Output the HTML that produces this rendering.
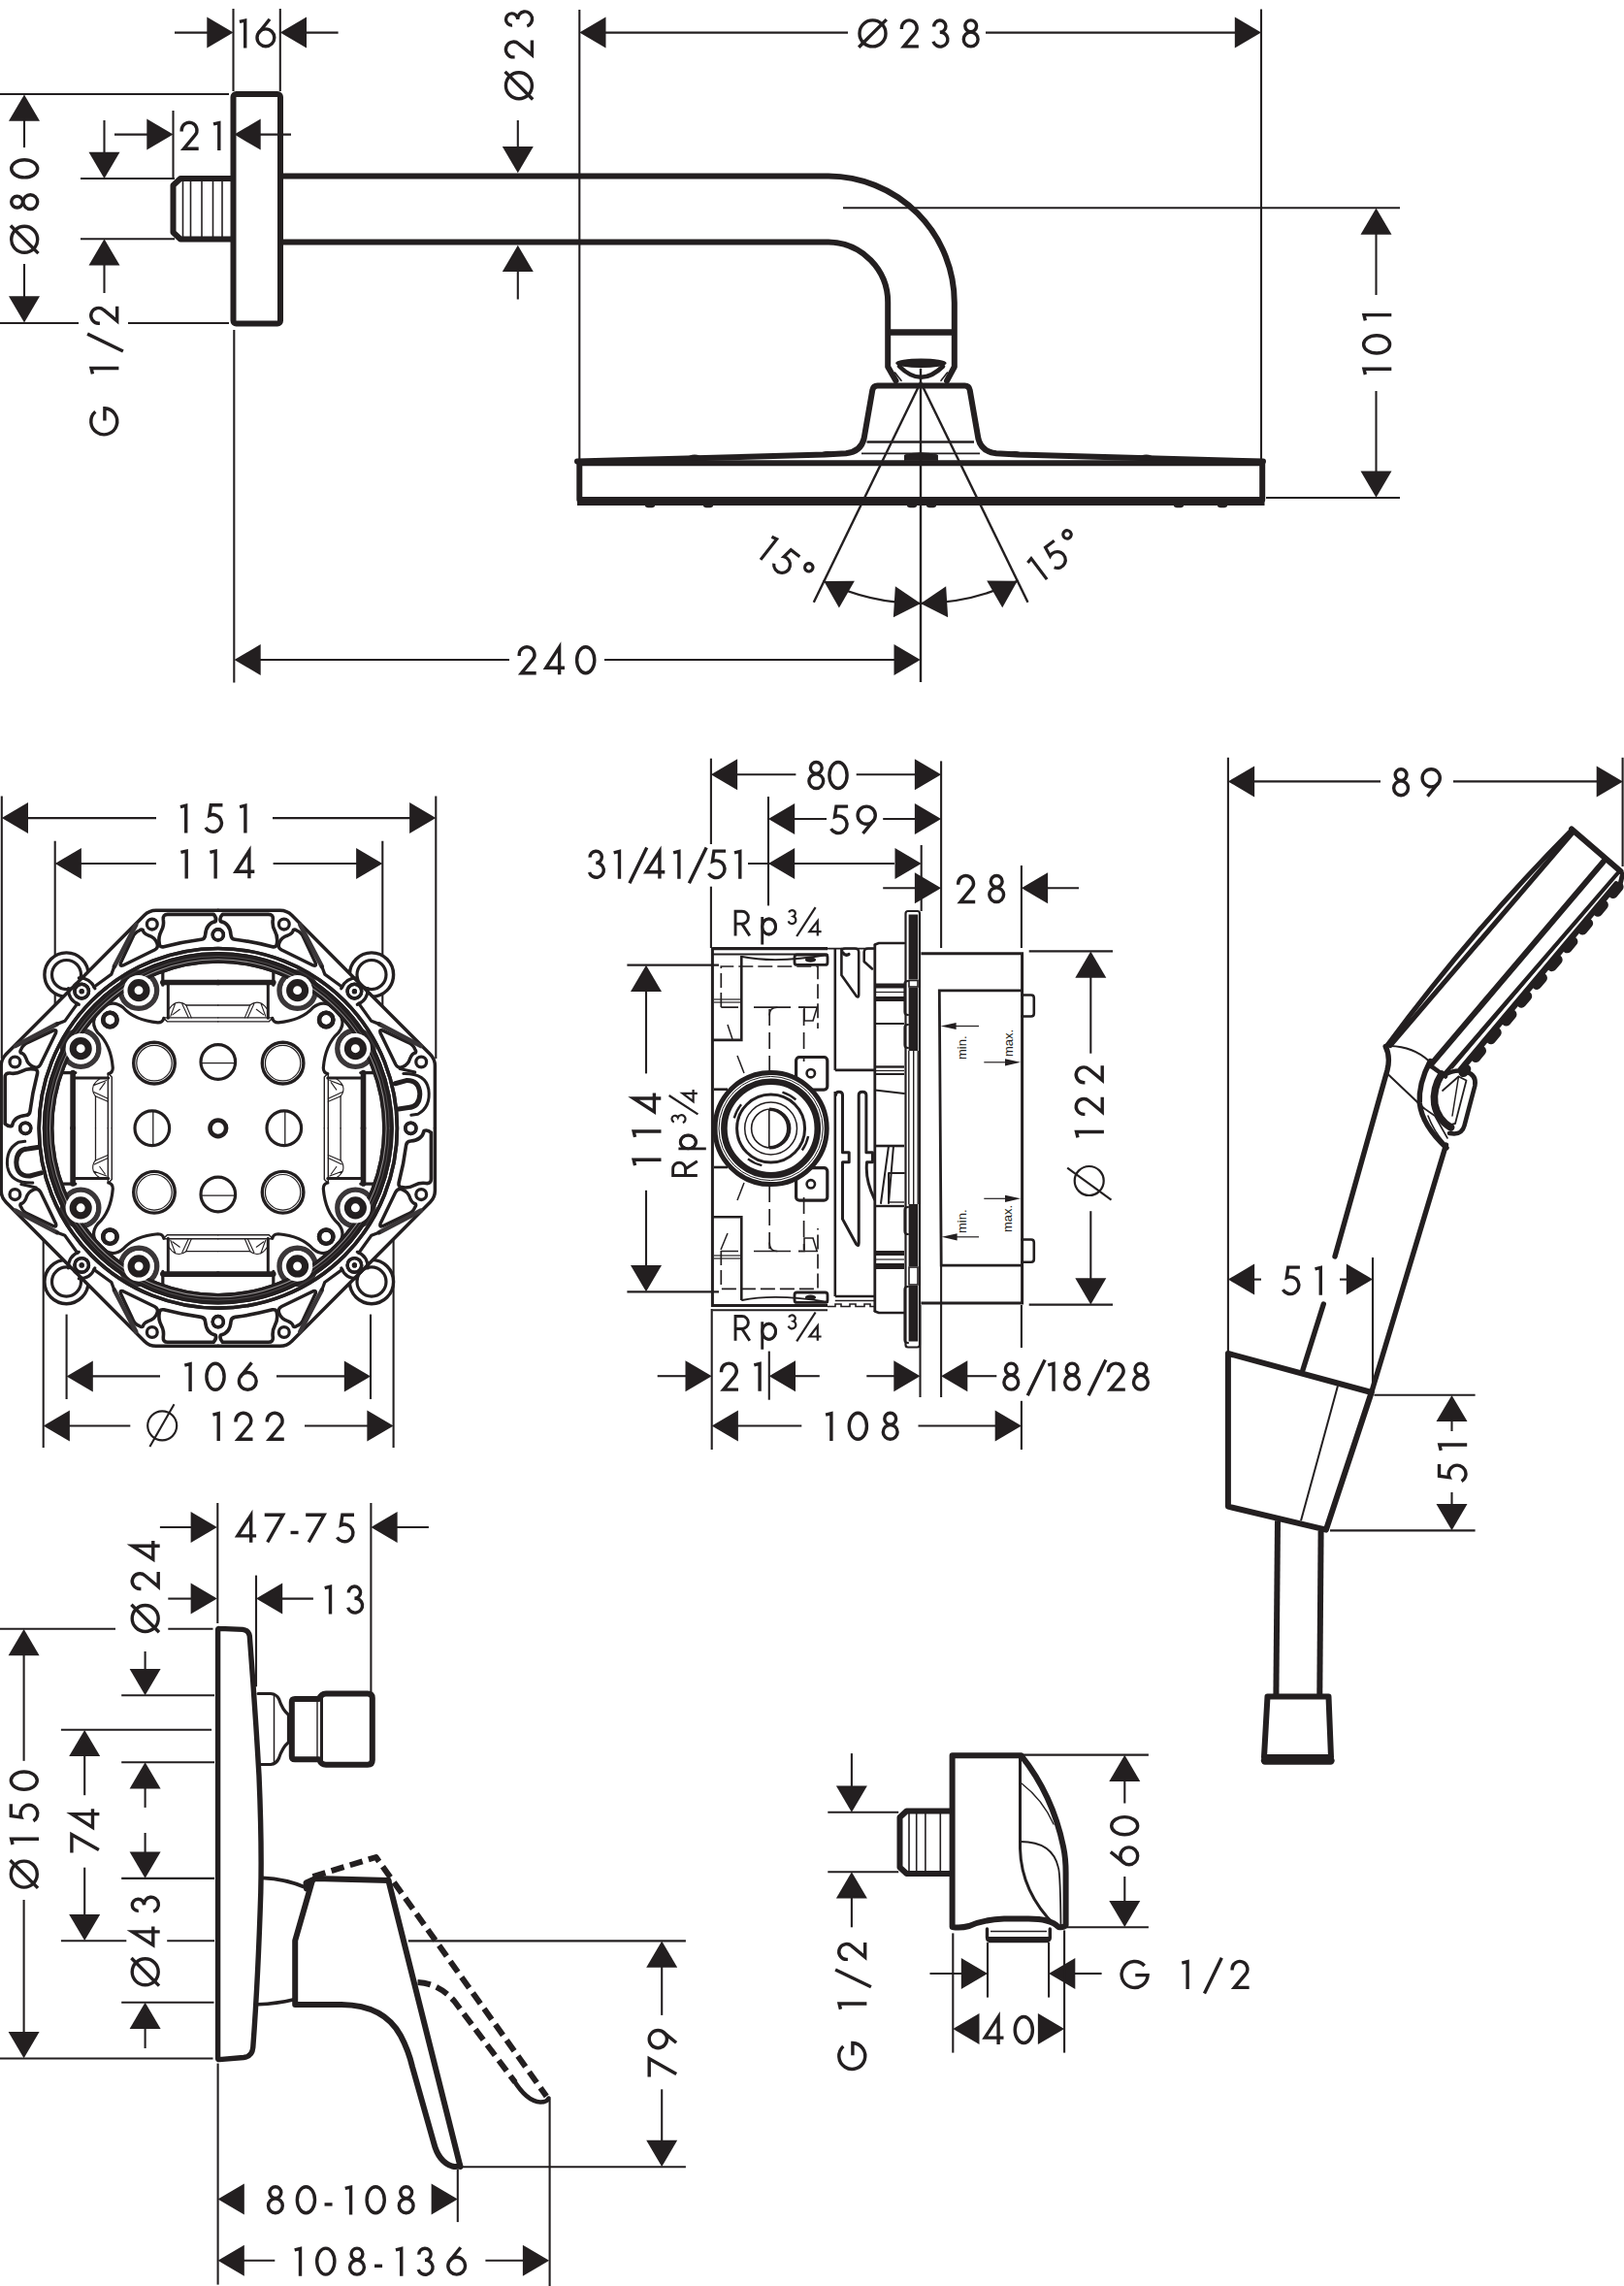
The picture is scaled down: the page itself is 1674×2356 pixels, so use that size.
<!DOCTYPE html>
<html><head><meta charset="utf-8"><title>Dimension drawing</title>
<style>html,body{margin:0;padding:0;background:#fff;}svg{display:block;}text{font-family:"Liberation Sans",sans-serif;}</style>
</head><body>
<svg width="1674" height="2356" viewBox="0 0 1674 2356">
<rect x="0" y="0" width="1674" height="2356" fill="#ffffff"/>
<line x1="240.50" y1="9.00" x2="240.50" y2="94.00" stroke="#231f20" stroke-width="2.1" stroke-linecap="butt"/>
<line x1="288.80" y1="9.00" x2="288.80" y2="94.00" stroke="#231f20" stroke-width="2.1" stroke-linecap="butt"/>
<line x1="180.00" y1="33.60" x2="215.00" y2="33.60" stroke="#231f20" stroke-width="2.1" stroke-linecap="butt"/>
<polygon points="240.50,33.60 213.30,17.60 213.30,49.60" fill="#231f20"/>
<polygon points="288.80,33.60 316.00,17.60 316.00,49.60" fill="#231f20"/>
<line x1="314.00" y1="33.60" x2="348.60" y2="33.60" stroke="#231f20" stroke-width="2.1" stroke-linecap="butt"/>
<g transform="translate(246.00,19.00) rotate(0) scale(1.0)" fill="none" stroke="#231f20" stroke-width="3.4" stroke-linejoin="miter" stroke-linecap="butt"><path transform="translate(1.70,1.70)" d="M-0.8,1.75 L5.0,0.35 V28.7"/><path transform="translate(19.00,1.70)" d="M8.9,9.2 A8.9,8.9 0 1 1 8.9,27 A8.9,8.9 0 1 1 8.9,9.2 Z"/><path transform="translate(19.00,1.70)" d="M13.0,-0.9 L1.4,13.6"/></g>
<line x1="0.00" y1="97.00" x2="236.00" y2="97.00" stroke="#231f20" stroke-width="2.1" stroke-linecap="butt"/>
<line x1="0.00" y1="333.00" x2="81.00" y2="333.00" stroke="#231f20" stroke-width="2.1" stroke-linecap="butt"/>
<line x1="132.00" y1="333.00" x2="236.00" y2="333.00" stroke="#231f20" stroke-width="2.1" stroke-linecap="butt"/>
<polygon points="25.00,97.50 9.00,124.70 41.00,124.70" fill="#231f20"/>
<line x1="25.00" y1="123.00" x2="25.00" y2="152.00" stroke="#231f20" stroke-width="2.1" stroke-linecap="butt"/>
<line x1="25.00" y1="272.00" x2="25.00" y2="307.00" stroke="#231f20" stroke-width="2.1" stroke-linecap="butt"/>
<polygon points="25.00,332.50 9.00,305.30 41.00,305.30" fill="#231f20"/>
<g transform="translate(10.00,262.00) rotate(-90) scale(1.0)" fill="none" stroke="#231f20" stroke-width="3.4" stroke-linejoin="miter" stroke-linecap="butt"><path transform="translate(1.70,1.70)" d="M13.5,0 A13.5,13.5 0 1 1 13.5,27 A13.5,13.5 0 1 1 13.5,0 Z"/><path transform="translate(1.70,1.70)" d="M-0.8,27.8 L27.8,-0.8"/><path transform="translate(46.50,1.70)" d="M7.4,0 A5.9,5.9 0 1 1 7.4,11.8 A5.9,5.9 0 1 1 7.4,0 Z"/><path transform="translate(46.50,1.70)" d="M7.4,12.2 A7.4,7.4 0 1 1 7.4,27 A7.4,7.4 0 1 1 7.4,12.2 Z"/><path transform="translate(79.10,1.70)" d="M9.1,0 A9.1,13.5 0 1 1 9.1,27 A9.1,13.5 0 1 1 9.1,0 Z"/></g>
<line x1="178.50" y1="114.00" x2="178.50" y2="183.00" stroke="#231f20" stroke-width="2.1" stroke-linecap="butt"/>
<line x1="118.00" y1="138.60" x2="153.00" y2="138.60" stroke="#231f20" stroke-width="2.1" stroke-linecap="butt"/>
<polygon points="178.50,138.60 151.30,122.60 151.30,154.60" fill="#231f20"/>
<g transform="translate(185.50,124.50) rotate(0) scale(1.0)" fill="none" stroke="#231f20" stroke-width="3.4" stroke-linejoin="miter" stroke-linecap="butt"><path transform="translate(1.70,1.70)" d="M0,9.2 V7.9 A7.9,7.9 0 1 1 13.8,13.2 L2.3,27 H17.5"/><path transform="translate(35.30,1.70)" d="M-0.8,1.75 L5.0,0.35 V28.7"/></g>
<polygon points="241.50,138.60 268.70,122.60 268.70,154.60" fill="#231f20"/>
<line x1="267.00" y1="138.60" x2="300.00" y2="138.60" stroke="#231f20" stroke-width="2.1" stroke-linecap="butt"/>
<line x1="83.00" y1="184.00" x2="180.00" y2="184.00" stroke="#231f20" stroke-width="2.1" stroke-linecap="butt"/>
<line x1="83.00" y1="246.30" x2="180.00" y2="246.30" stroke="#231f20" stroke-width="2.1" stroke-linecap="butt"/>
<line x1="107.50" y1="124.00" x2="107.50" y2="158.00" stroke="#231f20" stroke-width="2.1" stroke-linecap="butt"/>
<polygon points="107.50,184.00 91.50,156.80 123.50,156.80" fill="#231f20"/>
<polygon points="107.50,246.30 91.50,273.50 123.50,273.50" fill="#231f20"/>
<line x1="107.50" y1="272.00" x2="107.50" y2="302.00" stroke="#231f20" stroke-width="2.1" stroke-linecap="butt"/>
<g transform="translate(92.00,449.50) rotate(-90) scale(1.0)" fill="none" stroke="#231f20" stroke-width="3.4" stroke-linejoin="miter" stroke-linecap="butt"><path transform="translate(1.70,1.70)" d="M23.6,4.6 A13.5,13.5 0 1 0 27,14.2 H14.2"/><path transform="translate(65.00,1.70)" d="M-0.8,1.75 L5.0,0.35 V28.7"/><path transform="translate(88.15,1.70)" d="M-0.6,33.2 L17.2,-3.6"/><path transform="translate(116.30,1.70)" d="M0,9.2 V7.9 A7.9,7.9 0 1 1 13.8,13.2 L2.3,27 H17.5"/></g>
<rect x="240.50" y="97.00" width="48.50" height="236.60" rx="3" fill="none" stroke="#231f20" stroke-width="6.0"/>
<path d="M238,184 H186 L178.5,191 V239.5 L186,246.5 H238" fill="none" stroke="#231f20" stroke-width="6.0" stroke-linejoin="round" stroke-linecap="round" />
<line x1="188.50" y1="186.00" x2="188.50" y2="245.00" stroke="#231f20" stroke-width="1.6" stroke-linecap="butt"/>
<line x1="196.50" y1="186.00" x2="196.50" y2="245.00" stroke="#231f20" stroke-width="1.6" stroke-linecap="butt"/>
<line x1="208.00" y1="186.00" x2="208.00" y2="245.00" stroke="#231f20" stroke-width="1.6" stroke-linecap="butt"/>
<line x1="219.50" y1="186.00" x2="219.50" y2="245.00" stroke="#231f20" stroke-width="1.6" stroke-linecap="butt"/>
<line x1="229.00" y1="186.00" x2="229.00" y2="245.00" stroke="#231f20" stroke-width="1.6" stroke-linecap="butt"/>
<path d="M292,181.5 H854 A130.5,130.5 0 0 1 983.8,312 V378 L976,392.5" fill="none" stroke="#231f20" stroke-width="6.0" stroke-linejoin="round" stroke-linecap="round" />
<path d="M292,249.5 H854 A62,62 0 0 1 915.2,312 V378 L923.5,392.5" fill="none" stroke="#231f20" stroke-width="6.0" stroke-linejoin="round" stroke-linecap="round" />
<line x1="915.20" y1="342.50" x2="983.80" y2="342.50" stroke="#231f20" stroke-width="6.6" stroke-linecap="butt"/>
<ellipse cx="949.40" cy="374.30" rx="25.50" ry="4.00" fill="#231f20" stroke="#231f20" stroke-width="1.5"/>
<path d="M927,377.5 Q949.4,400 972,377.5" fill="none" stroke="#231f20" stroke-width="4.6" stroke-linejoin="round" stroke-linecap="round" />
<path d="M922.5,384 L929,392.3 M976.5,384 L970,392.3" fill="none" stroke="#231f20" stroke-width="1.6" stroke-linejoin="round" stroke-linecap="round" />
<line x1="533.80" y1="124.00" x2="533.80" y2="156.00" stroke="#231f20" stroke-width="2.1" stroke-linecap="butt"/>
<polygon points="533.80,178.30 517.80,151.10 549.80,151.10" fill="#231f20"/>
<polygon points="533.80,252.80 517.80,280.00 549.80,280.00" fill="#231f20"/>
<line x1="533.80" y1="278.00" x2="533.80" y2="308.50" stroke="#231f20" stroke-width="2.1" stroke-linecap="butt"/>
<g transform="translate(519.70,103.40) rotate(-90) scale(1.0)" fill="none" stroke="#231f20" stroke-width="3.4" stroke-linejoin="miter" stroke-linecap="butt"><path transform="translate(1.70,1.70)" d="M13.5,0 A13.5,13.5 0 1 1 13.5,27 A13.5,13.5 0 1 1 13.5,0 Z"/><path transform="translate(1.70,1.70)" d="M-0.8,27.8 L27.8,-0.8"/><path transform="translate(44.50,1.70)" d="M0,9.2 V7.9 A7.9,7.9 0 1 1 13.8,13.2 L2.3,27 H17.5"/><path transform="translate(76.30,1.70)" d="M1.0,6.6 A6.1,6.1 0 1 1 7.1,12.3 A7.6,7.45 0 1 1 0.3,21.9"/></g>
<line x1="597.30" y1="10.00" x2="597.30" y2="476.00" stroke="#231f20" stroke-width="2.1" stroke-linecap="butt"/>
<line x1="1300.00" y1="9.50" x2="1300.00" y2="476.00" stroke="#231f20" stroke-width="2.1" stroke-linecap="butt"/>
<polygon points="597.30,33.60 624.50,17.60 624.50,49.60" fill="#231f20"/>
<line x1="623.00" y1="33.60" x2="874.00" y2="33.60" stroke="#231f20" stroke-width="2.1" stroke-linecap="butt"/>
<g transform="translate(884.30,19.20) rotate(0) scale(1.0)" fill="none" stroke="#231f20" stroke-width="3.4" stroke-linejoin="miter" stroke-linecap="butt"><path transform="translate(1.70,1.70)" d="M13.5,0 A13.5,13.5 0 1 1 13.5,27 A13.5,13.5 0 1 1 13.5,0 Z"/><path transform="translate(1.70,1.70)" d="M-0.8,27.8 L27.8,-0.8"/><path transform="translate(45.07,1.70)" d="M0,9.2 V7.9 A7.9,7.9 0 1 1 13.8,13.2 L2.3,27 H17.5"/><path transform="translate(77.43,1.70)" d="M1.0,6.6 A6.1,6.1 0 1 1 7.1,12.3 A7.6,7.45 0 1 1 0.3,21.9"/><path transform="translate(109.00,1.70)" d="M7.4,0 A5.9,5.9 0 1 1 7.4,11.8 A5.9,5.9 0 1 1 7.4,0 Z"/><path transform="translate(109.00,1.70)" d="M7.4,12.2 A7.4,7.4 0 1 1 7.4,27 A7.4,7.4 0 1 1 7.4,12.2 Z"/></g>
<line x1="1016.00" y1="33.60" x2="1274.00" y2="33.60" stroke="#231f20" stroke-width="2.1" stroke-linecap="butt"/>
<polygon points="1300.00,33.60 1272.80,17.60 1272.80,49.60" fill="#231f20"/>
<path d="M595,475.5 L850,468.6 L872,467.2 Q887.5,465.5 890.6,452 L899.3,402 Q900.2,397.6 904.5,397.6 H994.5 Q998.8,397.6 999.7,402 L1008.4,452 Q1011.5,465.5 1027,467.2 L1049,468.6 L1302,475.5" fill="none" stroke="#231f20" stroke-width="6.0" stroke-linejoin="round" stroke-linecap="round" />
<line x1="893.50" y1="455.50" x2="1004.00" y2="455.50" stroke="#231f20" stroke-width="2.4" stroke-linecap="butt"/>
<line x1="888.00" y1="467.30" x2="1010.00" y2="467.30" stroke="#231f20" stroke-width="1.8" stroke-linecap="butt"/>
<path d="M597.3,477.3 H1301.2 V515 H597.3 Z" fill="none" stroke="#231f20" stroke-width="6.0" stroke-linejoin="round" stroke-linecap="round" />
<line x1="595.00" y1="516.70" x2="1303.50" y2="516.70" stroke="#231f20" stroke-width="8.6" stroke-linecap="butt"/>
<ellipse cx="716.00" cy="471.40" rx="7.00" ry="2.80" fill="#231f20" stroke="#231f20" stroke-width="0"/>
<ellipse cx="853.00" cy="467.70" rx="7.00" ry="2.80" fill="#231f20" stroke="#231f20" stroke-width="0"/>
<ellipse cx="1046.00" cy="467.70" rx="7.00" ry="2.80" fill="#231f20" stroke="#231f20" stroke-width="0"/>
<ellipse cx="1181.50" cy="471.40" rx="7.00" ry="2.80" fill="#231f20" stroke="#231f20" stroke-width="0"/>
<path d="M932.5,474.5 V469 Q949,464.5 966.4,469 V474.5 Z" fill="#231f20" stroke="#231f20" stroke-width="1" stroke-linejoin="round" stroke-linecap="round" />
<ellipse cx="670.00" cy="521.30" rx="5.00" ry="2.00" fill="#231f20" stroke="#231f20" stroke-width="0"/>
<ellipse cx="730.00" cy="521.30" rx="5.00" ry="2.00" fill="#231f20" stroke="#231f20" stroke-width="0"/>
<ellipse cx="940.00" cy="521.30" rx="5.00" ry="2.00" fill="#231f20" stroke="#231f20" stroke-width="0"/>
<ellipse cx="960.00" cy="521.30" rx="5.00" ry="2.00" fill="#231f20" stroke="#231f20" stroke-width="0"/>
<ellipse cx="1215.00" cy="521.30" rx="5.00" ry="2.00" fill="#231f20" stroke="#231f20" stroke-width="0"/>
<ellipse cx="1260.00" cy="521.30" rx="5.00" ry="2.00" fill="#231f20" stroke="#231f20" stroke-width="0"/>
<line x1="949.00" y1="379.70" x2="949.00" y2="703.00" stroke="#231f20" stroke-width="2.4" stroke-linecap="butt"/>
<line x1="949.00" y1="394.00" x2="838.80" y2="620.70" stroke="#231f20" stroke-width="2.4" stroke-linecap="butt"/>
<line x1="949.00" y1="394.00" x2="1059.50" y2="620.70" stroke="#231f20" stroke-width="2.4" stroke-linecap="butt"/>
<path d="M849.3,599.0 A227.5,227.5 0 0 0 1048.7,598.7" fill="none" stroke="#231f20" stroke-width="2.2" stroke-linejoin="round" stroke-linecap="round" />
<polygon points="849.32,599.04 880.87,598.73 864.92,626.47" fill="#231f20"/>
<polygon points="1048.74,598.72 1033.23,626.20 1017.18,598.52" fill="#231f20"/>
<polygon points="949.00,621.90 975.17,604.27 977.13,636.21" fill="#231f20"/>
<polygon points="949.00,621.90 920.87,636.21 922.83,604.27" fill="#231f20"/>
<g transform="translate(796.80,550.20) rotate(38) scale(0.95)" fill="none" stroke="#231f20" stroke-width="3.4" stroke-linejoin="miter" stroke-linecap="butt"><path transform="translate(1.70,1.70)" d="M-0.8,1.75 L5.0,0.35 V28.7"/><path transform="translate(20.10,1.70)" d="M18.0,0 H5.9 L4.4,10.6 A8.85,8.85 0 1 1 0.5,23.1"/><path transform="translate(48.70,1.70)" d="M4.4,-1.4 A4.4,4.4 0 1 1 4.4,7.4 A4.4,4.4 0 1 1 4.4,-1.4 Z"/></g>
<g transform="translate(1056.70,577.90) rotate(-37) scale(0.95)" fill="none" stroke="#231f20" stroke-width="3.4" stroke-linejoin="miter" stroke-linecap="butt"><path transform="translate(1.70,1.70)" d="M-0.8,1.75 L5.0,0.35 V28.7"/><path transform="translate(20.30,1.70)" d="M18.0,0 H5.9 L4.4,10.6 A8.85,8.85 0 1 1 0.5,23.1"/><path transform="translate(49.10,1.70)" d="M4.4,-1.4 A4.4,4.4 0 1 1 4.4,7.4 A4.4,4.4 0 1 1 4.4,-1.4 Z"/></g>
<line x1="869.00" y1="214.20" x2="1443.00" y2="214.20" stroke="#231f20" stroke-width="2.1" stroke-linecap="butt"/>
<line x1="1305.00" y1="513.00" x2="1443.00" y2="513.00" stroke="#231f20" stroke-width="2.1" stroke-linecap="butt"/>
<polygon points="1418.50,214.50 1402.50,241.70 1434.50,241.70" fill="#231f20"/>
<line x1="1418.50" y1="240.00" x2="1418.50" y2="304.00" stroke="#231f20" stroke-width="2.1" stroke-linecap="butt"/>
<line x1="1418.50" y1="403.00" x2="1418.50" y2="488.00" stroke="#231f20" stroke-width="2.1" stroke-linecap="butt"/>
<polygon points="1418.50,512.70 1402.50,485.50 1434.50,485.50" fill="#231f20"/>
<g transform="translate(1403.90,386.90) rotate(-90) scale(1.0)" fill="none" stroke="#231f20" stroke-width="3.4" stroke-linejoin="miter" stroke-linecap="butt"><path transform="translate(1.70,1.70)" d="M-0.8,1.75 L5.0,0.35 V28.7"/><path transform="translate(22.90,1.70)" d="M9.1,0 A9.1,13.5 0 1 1 9.1,27 A9.1,13.5 0 1 1 9.1,0 Z"/><path transform="translate(57.30,1.70)" d="M-0.8,1.75 L5.0,0.35 V28.7"/></g>
<line x1="241.30" y1="340.00" x2="241.30" y2="703.50" stroke="#231f20" stroke-width="2.1" stroke-linecap="butt"/>
<polygon points="241.50,680.00 268.70,664.00 268.70,696.00" fill="#231f20"/>
<line x1="267.00" y1="680.00" x2="525.00" y2="680.00" stroke="#231f20" stroke-width="2.1" stroke-linecap="butt"/>
<g transform="translate(533.50,665.00) rotate(0) scale(1.0)" fill="none" stroke="#231f20" stroke-width="3.4" stroke-linejoin="miter" stroke-linecap="butt"><path transform="translate(1.70,1.70)" d="M0,9.2 V7.9 A7.9,7.9 0 1 1 13.8,13.2 L2.3,27 H17.5"/><path transform="translate(28.30,1.70)" d="M14.8,28.5 V0.2 L1.0,21.6 H20.2"/><path transform="translate(61.10,1.70)" d="M9.1,0 A9.1,13.5 0 1 1 9.1,27 A9.1,13.5 0 1 1 9.1,0 Z"/></g>
<line x1="623.00" y1="680.00" x2="923.00" y2="680.00" stroke="#231f20" stroke-width="2.1" stroke-linecap="butt"/>
<polygon points="948.70,680.00 921.50,664.00 921.50,696.00" fill="#231f20"/>
<line x1="1.80" y1="820.50" x2="1.80" y2="1091.00" stroke="#231f20" stroke-width="2.1" stroke-linecap="butt"/>
<line x1="449.30" y1="820.50" x2="449.30" y2="1091.00" stroke="#231f20" stroke-width="2.1" stroke-linecap="butt"/>
<polygon points="1.80,843.10 29.00,827.10 29.00,859.10" fill="#231f20"/>
<line x1="28.00" y1="843.10" x2="161.00" y2="843.10" stroke="#231f20" stroke-width="2.1" stroke-linecap="butt"/>
<g transform="translate(185.00,828.10) rotate(0) scale(1.0)" fill="none" stroke="#231f20" stroke-width="3.4" stroke-linejoin="miter" stroke-linecap="butt"><path transform="translate(1.70,1.70)" d="M-0.8,1.75 L5.0,0.35 V28.7"/><path transform="translate(26.45,1.70)" d="M18.0,0 H5.9 L4.4,10.6 A8.85,8.85 0 1 1 0.5,23.1"/><path transform="translate(62.90,1.70)" d="M-0.8,1.75 L5.0,0.35 V28.7"/></g>
<line x1="281.00" y1="843.10" x2="423.00" y2="843.10" stroke="#231f20" stroke-width="2.1" stroke-linecap="butt"/>
<polygon points="449.30,843.10 422.10,827.10 422.10,859.10" fill="#231f20"/>
<line x1="56.70" y1="866.80" x2="56.70" y2="1204.00" stroke="#231f20" stroke-width="2.1" stroke-linecap="butt"/>
<line x1="394.30" y1="866.80" x2="394.30" y2="1204.00" stroke="#231f20" stroke-width="2.1" stroke-linecap="butt"/>
<polygon points="56.70,890.00 83.90,874.00 83.90,906.00" fill="#231f20"/>
<line x1="83.00" y1="890.00" x2="161.00" y2="890.00" stroke="#231f20" stroke-width="2.1" stroke-linecap="butt"/>
<g transform="translate(185.50,875.00) rotate(0) scale(1.0)" fill="none" stroke="#231f20" stroke-width="3.4" stroke-linejoin="miter" stroke-linecap="butt"><path transform="translate(1.70,1.70)" d="M-0.8,1.75 L5.0,0.35 V28.7"/><path transform="translate(31.65,1.70)" d="M-0.8,1.75 L5.0,0.35 V28.7"/><path transform="translate(56.60,1.70)" d="M14.8,28.5 V0.2 L1.0,21.6 H20.2"/></g>
<line x1="281.60" y1="890.00" x2="368.00" y2="890.00" stroke="#231f20" stroke-width="2.1" stroke-linecap="butt"/>
<polygon points="394.30,890.00 367.10,874.00 367.10,906.00" fill="#231f20"/>
<line x1="68.60" y1="1354.60" x2="68.60" y2="1442.00" stroke="#231f20" stroke-width="2.1" stroke-linecap="butt"/>
<line x1="382.00" y1="1354.60" x2="382.00" y2="1442.00" stroke="#231f20" stroke-width="2.1" stroke-linecap="butt"/>
<polygon points="68.60,1418.40 95.80,1402.40 95.80,1434.40" fill="#231f20"/>
<line x1="95.00" y1="1418.40" x2="165.00" y2="1418.40" stroke="#231f20" stroke-width="2.1" stroke-linecap="butt"/>
<g transform="translate(189.40,1403.60) rotate(0) scale(1.0)" fill="none" stroke="#231f20" stroke-width="3.4" stroke-linejoin="miter" stroke-linecap="butt"><path transform="translate(1.70,1.70)" d="M-0.8,1.75 L5.0,0.35 V28.7"/><path transform="translate(23.50,1.70)" d="M9.1,0 A9.1,13.5 0 1 1 9.1,27 A9.1,13.5 0 1 1 9.1,0 Z"/><path transform="translate(57.00,1.70)" d="M8.9,9.2 A8.9,8.9 0 1 1 8.9,27 A8.9,8.9 0 1 1 8.9,9.2 Z"/><path transform="translate(57.00,1.70)" d="M13.0,-0.9 L1.4,13.6"/></g>
<line x1="285.00" y1="1418.40" x2="356.00" y2="1418.40" stroke="#231f20" stroke-width="2.1" stroke-linecap="butt"/>
<polygon points="382.00,1418.40 354.80,1402.40 354.80,1434.40" fill="#231f20"/>
<line x1="44.70" y1="1136.00" x2="44.70" y2="1492.00" stroke="#231f20" stroke-width="2.1" stroke-linecap="butt"/>
<line x1="405.60" y1="1136.00" x2="405.60" y2="1492.00" stroke="#231f20" stroke-width="2.1" stroke-linecap="butt"/>
<polygon points="44.70,1469.50 71.90,1453.50 71.90,1485.50" fill="#231f20"/>
<line x1="71.00" y1="1469.50" x2="134.30" y2="1469.50" stroke="#231f20" stroke-width="2.1" stroke-linecap="butt"/>
<circle cx="167.20" cy="1469.30" r="15.00" fill="none" stroke="#231f20" stroke-width="2.2"/>
<line x1="154.40" y1="1491.00" x2="179.50" y2="1447.20" stroke="#231f20" stroke-width="2.1" stroke-linecap="butt"/>
<g transform="translate(218.50,1454.60) rotate(0) scale(1.0)" fill="none" stroke="#231f20" stroke-width="3.4" stroke-linejoin="miter" stroke-linecap="butt"><path transform="translate(1.70,1.70)" d="M-0.8,1.75 L5.0,0.35 V28.7"/><path transform="translate(24.50,1.70)" d="M0,9.2 V7.9 A7.9,7.9 0 1 1 13.8,13.2 L2.3,27 H17.5"/><path transform="translate(56.80,1.70)" d="M0,9.2 V7.9 A7.9,7.9 0 1 1 13.8,13.2 L2.3,27 H17.5"/></g>
<line x1="314.00" y1="1469.50" x2="379.50" y2="1469.50" stroke="#231f20" stroke-width="2.1" stroke-linecap="butt"/>
<polygon points="405.60,1469.50 378.40,1453.50 378.40,1485.50" fill="#231f20"/>
<g transform="translate(224.8,1162.8) scale(1,1.004)" stroke="#231f20" fill="none" stroke-linejoin="round" stroke-linecap="round">
<circle cx="-156.3" cy="-157.6" r="22.6" stroke-width="3.4" fill="#fff"/>
<circle cx="-156.3" cy="-157.6" r="15" stroke-width="3.2" fill="#fff"/>
<circle cx="-156.3" cy="157.6" r="22.6" stroke-width="3.4" fill="#fff"/>
<circle cx="-156.3" cy="157.6" r="15" stroke-width="3.2" fill="#fff"/>
<circle cx="158.2" cy="-157.6" r="22.6" stroke-width="3.4" fill="#fff"/>
<circle cx="158.2" cy="-157.6" r="15" stroke-width="3.2" fill="#fff"/>
<circle cx="158.2" cy="157.6" r="22.6" stroke-width="3.4" fill="#fff"/>
<circle cx="158.2" cy="157.6" r="15" stroke-width="3.2" fill="#fff"/>
<path d="M76,-218.6 L218.6,-76 L218.6,76 L76,218.6 L-76,218.6 L-218.6,76 L-218.6,-76 L-76,-218.6 Z" fill="#fff" stroke="none"/>
<circle cx="0" cy="0" r="184.6" stroke-width="3.6"/>
<circle cx="0" cy="0" r="175.2" stroke-width="11.6"/>
<g transform="rotate(0) scale(1,1)"><path d="M0,-223.6 H64 Q71,-223.6 76,-218.6 L148,-146.5" stroke-width="3.5" fill="none" /><circle cx="0" cy="-198.6" r="5.6" stroke-width="3.4" fill="none"/><circle cx="68" cy="-209.4" r="5.4" stroke-width="3.3" fill="none"/><path d="M-12.5,-196 Q-12,-211 0,-211.5 Q12,-211 12.5,-196" stroke-width="0" fill="none" /><path d="M81,-203 Q86,-201 88,-196 L100.5,-169.5 Q101.5,-166 98,-167.2 L65.5,-183 Q61,-185.5 63,-190 Q65,-196 72,-198 Q77,-200 77.5,-203.5 Q79,-204.5 81,-203 Z" stroke-width="3.4" fill="none" /><path d="M84.5,-209 L107,-166" stroke-width="4.6" fill="none" stroke="#3a3638"/><path d="M107,-166 L110,-158 L128,-145" stroke-width="3.2" fill="none" /><circle cx="140.6" cy="-140.6" r="7.3" stroke-width="3.4" fill="none"/><circle cx="140.6" cy="-140.6" r="1.6" stroke-width="2.0" fill="#231f20"/><path d="M127,-143.5 Q131.5,-154.5 143.5,-154.3" stroke-width="3.2" fill="none" /><circle cx="111.4" cy="-111.4" r="7.2" stroke-width="4.4" fill="none"/><path d="M56,-113 Q57,-108.5 62,-108.5 Q86,-110.5 98,-124 Q106,-130.5 114,-127 Q122.5,-123.5 126.5,-115" stroke-width="3.2" fill="none" /><path d="M0,-149.7 H57" stroke-width="5.6" fill="none" /><path d="M57,-147 V-166" stroke-width="3.2" fill="none" /><path d="M0,-109.5 H52.5 L55.5,-112.5 V-113.5 H0" stroke-width="1.4" fill="none" /><path d="M51.5,-147 V-113" stroke-width="3.0" fill="none" /><path d="M0,-126.3 H33" stroke-width="1.3" fill="none" /><path d="M33,-126.5 Q38,-130.5 44,-128.5 Q48,-126.5 51.5,-121 M33,-126.5 L27.5,-113.5 M37,-127.5 L30.5,-113.5 M44,-128.5 L49,-115 M39.5,-122 L47,-116.5" stroke-width="1.1" fill="none" /><path d="M4.6,-219.6 H52 Q57,-219.6 56.5,-214.5 Q55.5,-208 58.5,-202.5 Q62,-196 60.5,-189 Q59.8,-185.5 56,-186.3 Q36,-191.5 17.5,-193.8 Q13.5,-194.3 13.2,-198.5 Q12.2,-210.5 2.6,-212.3 Q1.2,-216 4.6,-219.6 Z" stroke-width="3.6" fill="none" /></g>
<g transform="rotate(0) scale(-1,1)"><path d="M0,-223.6 H64 Q71,-223.6 76,-218.6 L148,-146.5" stroke-width="3.5" fill="none" /><circle cx="0" cy="-198.6" r="5.6" stroke-width="3.4" fill="none"/><circle cx="68" cy="-209.4" r="5.4" stroke-width="3.3" fill="none"/><path d="M-12.5,-196 Q-12,-211 0,-211.5 Q12,-211 12.5,-196" stroke-width="0" fill="none" /><path d="M81,-203 Q86,-201 88,-196 L100.5,-169.5 Q101.5,-166 98,-167.2 L65.5,-183 Q61,-185.5 63,-190 Q65,-196 72,-198 Q77,-200 77.5,-203.5 Q79,-204.5 81,-203 Z" stroke-width="3.4" fill="none" /><path d="M84.5,-209 L107,-166" stroke-width="4.6" fill="none" stroke="#3a3638"/><path d="M107,-166 L110,-158 L128,-145" stroke-width="3.2" fill="none" /><circle cx="140.6" cy="-140.6" r="7.3" stroke-width="3.4" fill="none"/><circle cx="140.6" cy="-140.6" r="1.6" stroke-width="2.0" fill="#231f20"/><path d="M127,-143.5 Q131.5,-154.5 143.5,-154.3" stroke-width="3.2" fill="none" /><circle cx="111.4" cy="-111.4" r="7.2" stroke-width="4.4" fill="none"/><path d="M56,-113 Q57,-108.5 62,-108.5 Q86,-110.5 98,-124 Q106,-130.5 114,-127 Q122.5,-123.5 126.5,-115" stroke-width="3.2" fill="none" /><path d="M0,-149.7 H57" stroke-width="5.6" fill="none" /><path d="M57,-147 V-166" stroke-width="3.2" fill="none" /><path d="M0,-109.5 H52.5 L55.5,-112.5 V-113.5 H0" stroke-width="1.4" fill="none" /><path d="M51.5,-147 V-113" stroke-width="3.0" fill="none" /><path d="M0,-126.3 H33" stroke-width="1.3" fill="none" /><path d="M33,-126.5 Q38,-130.5 44,-128.5 Q48,-126.5 51.5,-121 M33,-126.5 L27.5,-113.5 M37,-127.5 L30.5,-113.5 M44,-128.5 L49,-115 M39.5,-122 L47,-116.5" stroke-width="1.1" fill="none" /><path d="M4.6,-219.6 H52 Q57,-219.6 56.5,-214.5 Q55.5,-208 58.5,-202.5 Q62,-196 60.5,-189 Q59.8,-185.5 56,-186.3 Q36,-191.5 17.5,-193.8 Q13.5,-194.3 13.2,-198.5 Q12.2,-210.5 2.6,-212.3 Q1.2,-216 4.6,-219.6 Z" stroke-width="3.6" fill="none" /></g>
<g transform="rotate(90) scale(1,1)"><path d="M0,-223.6 H64 Q71,-223.6 76,-218.6 L148,-146.5" stroke-width="3.5" fill="none" /><circle cx="0" cy="-198.6" r="5.6" stroke-width="3.4" fill="none"/><circle cx="68" cy="-209.4" r="5.4" stroke-width="3.3" fill="none"/><path d="M-12.5,-196 Q-12,-211 0,-211.5 Q12,-211 12.5,-196" stroke-width="0" fill="none" /><path d="M81,-203 Q86,-201 88,-196 L100.5,-169.5 Q101.5,-166 98,-167.2 L65.5,-183 Q61,-185.5 63,-190 Q65,-196 72,-198 Q77,-200 77.5,-203.5 Q79,-204.5 81,-203 Z" stroke-width="3.4" fill="none" /><path d="M84.5,-209 L107,-166" stroke-width="4.6" fill="none" stroke="#3a3638"/><path d="M107,-166 L110,-158 L128,-145" stroke-width="3.2" fill="none" /><circle cx="140.6" cy="-140.6" r="7.3" stroke-width="3.4" fill="none"/><circle cx="140.6" cy="-140.6" r="1.6" stroke-width="2.0" fill="#231f20"/><path d="M127,-143.5 Q131.5,-154.5 143.5,-154.3" stroke-width="3.2" fill="none" /><circle cx="111.4" cy="-111.4" r="7.2" stroke-width="4.4" fill="none"/><path d="M56,-113 Q57,-108.5 62,-108.5 Q86,-110.5 98,-124 Q106,-130.5 114,-127 Q122.5,-123.5 126.5,-115" stroke-width="3.2" fill="none" /><path d="M0,-149.7 H57" stroke-width="5.6" fill="none" /><path d="M57,-147 V-166" stroke-width="3.2" fill="none" /><path d="M0,-109.5 H52.5 L55.5,-112.5 V-113.5 H0" stroke-width="1.4" fill="none" /><path d="M51.5,-147 V-113" stroke-width="3.0" fill="none" /><path d="M0,-126.3 H33" stroke-width="1.3" fill="none" /><path d="M33,-126.5 Q38,-130.5 44,-128.5 Q48,-126.5 51.5,-121 M33,-126.5 L27.5,-113.5 M37,-127.5 L30.5,-113.5 M44,-128.5 L49,-115 M39.5,-122 L47,-116.5" stroke-width="1.1" fill="none" /><path d="M4.6,-219.6 H52 Q57,-219.6 56.5,-214.5 Q55.5,-208 58.5,-202.5 Q62,-196 60.5,-189 Q59.8,-185.5 56,-186.3 Q36,-191.5 17.5,-193.8 Q13.5,-194.3 13.2,-198.5 Q12.2,-210.5 2.6,-212.3 Q1.2,-216 4.6,-219.6 Z" stroke-width="3.6" fill="none" /></g>
<g transform="rotate(90) scale(-1,1)"><path d="M0,-223.6 H64 Q71,-223.6 76,-218.6 L148,-146.5" stroke-width="3.5" fill="none" /><circle cx="0" cy="-198.6" r="5.6" stroke-width="3.4" fill="none"/><circle cx="68" cy="-209.4" r="5.4" stroke-width="3.3" fill="none"/><path d="M-12.5,-196 Q-12,-211 0,-211.5 Q12,-211 12.5,-196" stroke-width="0" fill="none" /><path d="M81,-203 Q86,-201 88,-196 L100.5,-169.5 Q101.5,-166 98,-167.2 L65.5,-183 Q61,-185.5 63,-190 Q65,-196 72,-198 Q77,-200 77.5,-203.5 Q79,-204.5 81,-203 Z" stroke-width="3.4" fill="none" /><path d="M84.5,-209 L107,-166" stroke-width="4.6" fill="none" stroke="#3a3638"/><path d="M107,-166 L110,-158 L128,-145" stroke-width="3.2" fill="none" /><circle cx="140.6" cy="-140.6" r="7.3" stroke-width="3.4" fill="none"/><circle cx="140.6" cy="-140.6" r="1.6" stroke-width="2.0" fill="#231f20"/><path d="M127,-143.5 Q131.5,-154.5 143.5,-154.3" stroke-width="3.2" fill="none" /><circle cx="111.4" cy="-111.4" r="7.2" stroke-width="4.4" fill="none"/><path d="M56,-113 Q57,-108.5 62,-108.5 Q86,-110.5 98,-124 Q106,-130.5 114,-127 Q122.5,-123.5 126.5,-115" stroke-width="3.2" fill="none" /><path d="M0,-149.7 H57" stroke-width="5.6" fill="none" /><path d="M57,-147 V-166" stroke-width="3.2" fill="none" /><path d="M0,-109.5 H52.5 L55.5,-112.5 V-113.5 H0" stroke-width="1.4" fill="none" /><path d="M51.5,-147 V-113" stroke-width="3.0" fill="none" /><path d="M0,-126.3 H33" stroke-width="1.3" fill="none" /><path d="M33,-126.5 Q38,-130.5 44,-128.5 Q48,-126.5 51.5,-121 M33,-126.5 L27.5,-113.5 M37,-127.5 L30.5,-113.5 M44,-128.5 L49,-115 M39.5,-122 L47,-116.5" stroke-width="1.1" fill="none" /><path d="M45.9,-182.6 L49,-194 Q49.5,-207.5 35,-208 Q21.5,-207.5 21.2,-196 L19.7,-186.1" stroke-width="5.0" fill="none" /><path d="M56,-191 Q56.5,-214 40,-217 Q22,-219.5 14.5,-206 L13.5,-199" stroke-width="3.0" fill="none" /><path d="M61,-187.5 L57.5,-203" stroke-width="3.0" fill="none" /></g>
<g transform="rotate(180) scale(1,1)"><path d="M0,-223.6 H64 Q71,-223.6 76,-218.6 L148,-146.5" stroke-width="3.5" fill="none" /><circle cx="0" cy="-198.6" r="5.6" stroke-width="3.4" fill="none"/><circle cx="68" cy="-209.4" r="5.4" stroke-width="3.3" fill="none"/><path d="M-12.5,-196 Q-12,-211 0,-211.5 Q12,-211 12.5,-196" stroke-width="0" fill="none" /><path d="M81,-203 Q86,-201 88,-196 L100.5,-169.5 Q101.5,-166 98,-167.2 L65.5,-183 Q61,-185.5 63,-190 Q65,-196 72,-198 Q77,-200 77.5,-203.5 Q79,-204.5 81,-203 Z" stroke-width="3.4" fill="none" /><path d="M84.5,-209 L107,-166" stroke-width="4.6" fill="none" stroke="#3a3638"/><path d="M107,-166 L110,-158 L128,-145" stroke-width="3.2" fill="none" /><circle cx="140.6" cy="-140.6" r="7.3" stroke-width="3.4" fill="none"/><circle cx="140.6" cy="-140.6" r="1.6" stroke-width="2.0" fill="#231f20"/><path d="M127,-143.5 Q131.5,-154.5 143.5,-154.3" stroke-width="3.2" fill="none" /><circle cx="111.4" cy="-111.4" r="7.2" stroke-width="4.4" fill="none"/><path d="M56,-113 Q57,-108.5 62,-108.5 Q86,-110.5 98,-124 Q106,-130.5 114,-127 Q122.5,-123.5 126.5,-115" stroke-width="3.2" fill="none" /><path d="M0,-149.7 H57" stroke-width="5.6" fill="none" /><path d="M57,-147 V-166" stroke-width="3.2" fill="none" /><path d="M0,-109.5 H52.5 L55.5,-112.5 V-113.5 H0" stroke-width="1.4" fill="none" /><path d="M51.5,-147 V-113" stroke-width="3.0" fill="none" /><path d="M0,-126.3 H33" stroke-width="1.3" fill="none" /><path d="M33,-126.5 Q38,-130.5 44,-128.5 Q48,-126.5 51.5,-121 M33,-126.5 L27.5,-113.5 M37,-127.5 L30.5,-113.5 M44,-128.5 L49,-115 M39.5,-122 L47,-116.5" stroke-width="1.1" fill="none" /><path d="M4.6,-219.6 H52 Q57,-219.6 56.5,-214.5 Q55.5,-208 58.5,-202.5 Q62,-196 60.5,-189 Q59.8,-185.5 56,-186.3 Q36,-191.5 17.5,-193.8 Q13.5,-194.3 13.2,-198.5 Q12.2,-210.5 2.6,-212.3 Q1.2,-216 4.6,-219.6 Z" stroke-width="3.6" fill="none" /></g>
<g transform="rotate(180) scale(-1,1)"><path d="M0,-223.6 H64 Q71,-223.6 76,-218.6 L148,-146.5" stroke-width="3.5" fill="none" /><circle cx="0" cy="-198.6" r="5.6" stroke-width="3.4" fill="none"/><circle cx="68" cy="-209.4" r="5.4" stroke-width="3.3" fill="none"/><path d="M-12.5,-196 Q-12,-211 0,-211.5 Q12,-211 12.5,-196" stroke-width="0" fill="none" /><path d="M81,-203 Q86,-201 88,-196 L100.5,-169.5 Q101.5,-166 98,-167.2 L65.5,-183 Q61,-185.5 63,-190 Q65,-196 72,-198 Q77,-200 77.5,-203.5 Q79,-204.5 81,-203 Z" stroke-width="3.4" fill="none" /><path d="M84.5,-209 L107,-166" stroke-width="4.6" fill="none" stroke="#3a3638"/><path d="M107,-166 L110,-158 L128,-145" stroke-width="3.2" fill="none" /><circle cx="140.6" cy="-140.6" r="7.3" stroke-width="3.4" fill="none"/><circle cx="140.6" cy="-140.6" r="1.6" stroke-width="2.0" fill="#231f20"/><path d="M127,-143.5 Q131.5,-154.5 143.5,-154.3" stroke-width="3.2" fill="none" /><circle cx="111.4" cy="-111.4" r="7.2" stroke-width="4.4" fill="none"/><path d="M56,-113 Q57,-108.5 62,-108.5 Q86,-110.5 98,-124 Q106,-130.5 114,-127 Q122.5,-123.5 126.5,-115" stroke-width="3.2" fill="none" /><path d="M0,-149.7 H57" stroke-width="5.6" fill="none" /><path d="M57,-147 V-166" stroke-width="3.2" fill="none" /><path d="M0,-109.5 H52.5 L55.5,-112.5 V-113.5 H0" stroke-width="1.4" fill="none" /><path d="M51.5,-147 V-113" stroke-width="3.0" fill="none" /><path d="M0,-126.3 H33" stroke-width="1.3" fill="none" /><path d="M33,-126.5 Q38,-130.5 44,-128.5 Q48,-126.5 51.5,-121 M33,-126.5 L27.5,-113.5 M37,-127.5 L30.5,-113.5 M44,-128.5 L49,-115 M39.5,-122 L47,-116.5" stroke-width="1.1" fill="none" /><path d="M4.6,-219.6 H52 Q57,-219.6 56.5,-214.5 Q55.5,-208 58.5,-202.5 Q62,-196 60.5,-189 Q59.8,-185.5 56,-186.3 Q36,-191.5 17.5,-193.8 Q13.5,-194.3 13.2,-198.5 Q12.2,-210.5 2.6,-212.3 Q1.2,-216 4.6,-219.6 Z" stroke-width="3.6" fill="none" /></g>
<g transform="rotate(270) scale(1,1)"><path d="M0,-223.6 H64 Q71,-223.6 76,-218.6 L148,-146.5" stroke-width="3.5" fill="none" /><circle cx="0" cy="-198.6" r="5.6" stroke-width="3.4" fill="none"/><circle cx="68" cy="-209.4" r="5.4" stroke-width="3.3" fill="none"/><path d="M-12.5,-196 Q-12,-211 0,-211.5 Q12,-211 12.5,-196" stroke-width="0" fill="none" /><path d="M81,-203 Q86,-201 88,-196 L100.5,-169.5 Q101.5,-166 98,-167.2 L65.5,-183 Q61,-185.5 63,-190 Q65,-196 72,-198 Q77,-200 77.5,-203.5 Q79,-204.5 81,-203 Z" stroke-width="3.4" fill="none" /><path d="M84.5,-209 L107,-166" stroke-width="4.6" fill="none" stroke="#3a3638"/><path d="M107,-166 L110,-158 L128,-145" stroke-width="3.2" fill="none" /><circle cx="140.6" cy="-140.6" r="7.3" stroke-width="3.4" fill="none"/><circle cx="140.6" cy="-140.6" r="1.6" stroke-width="2.0" fill="#231f20"/><path d="M127,-143.5 Q131.5,-154.5 143.5,-154.3" stroke-width="3.2" fill="none" /><circle cx="111.4" cy="-111.4" r="7.2" stroke-width="4.4" fill="none"/><path d="M56,-113 Q57,-108.5 62,-108.5 Q86,-110.5 98,-124 Q106,-130.5 114,-127 Q122.5,-123.5 126.5,-115" stroke-width="3.2" fill="none" /><path d="M0,-149.7 H57" stroke-width="5.6" fill="none" /><path d="M57,-147 V-166" stroke-width="3.2" fill="none" /><path d="M0,-109.5 H52.5 L55.5,-112.5 V-113.5 H0" stroke-width="1.4" fill="none" /><path d="M51.5,-147 V-113" stroke-width="3.0" fill="none" /><path d="M0,-126.3 H33" stroke-width="1.3" fill="none" /><path d="M33,-126.5 Q38,-130.5 44,-128.5 Q48,-126.5 51.5,-121 M33,-126.5 L27.5,-113.5 M37,-127.5 L30.5,-113.5 M44,-128.5 L49,-115 M39.5,-122 L47,-116.5" stroke-width="1.1" fill="none" /><path d="M4.6,-219.6 H52 Q57,-219.6 56.5,-214.5 Q55.5,-208 58.5,-202.5 Q62,-196 60.5,-189 Q59.8,-185.5 56,-186.3 Q36,-191.5 17.5,-193.8 Q13.5,-194.3 13.2,-198.5 Q12.2,-210.5 2.6,-212.3 Q1.2,-216 4.6,-219.6 Z" stroke-width="3.6" fill="none" /></g>
<g transform="rotate(270) scale(-1,1)"><path d="M0,-223.6 H64 Q71,-223.6 76,-218.6 L148,-146.5" stroke-width="3.5" fill="none" /><circle cx="0" cy="-198.6" r="5.6" stroke-width="3.4" fill="none"/><circle cx="68" cy="-209.4" r="5.4" stroke-width="3.3" fill="none"/><path d="M-12.5,-196 Q-12,-211 0,-211.5 Q12,-211 12.5,-196" stroke-width="0" fill="none" /><path d="M81,-203 Q86,-201 88,-196 L100.5,-169.5 Q101.5,-166 98,-167.2 L65.5,-183 Q61,-185.5 63,-190 Q65,-196 72,-198 Q77,-200 77.5,-203.5 Q79,-204.5 81,-203 Z" stroke-width="3.4" fill="none" /><path d="M84.5,-209 L107,-166" stroke-width="4.6" fill="none" stroke="#3a3638"/><path d="M107,-166 L110,-158 L128,-145" stroke-width="3.2" fill="none" /><circle cx="140.6" cy="-140.6" r="7.3" stroke-width="3.4" fill="none"/><circle cx="140.6" cy="-140.6" r="1.6" stroke-width="2.0" fill="#231f20"/><path d="M127,-143.5 Q131.5,-154.5 143.5,-154.3" stroke-width="3.2" fill="none" /><circle cx="111.4" cy="-111.4" r="7.2" stroke-width="4.4" fill="none"/><path d="M56,-113 Q57,-108.5 62,-108.5 Q86,-110.5 98,-124 Q106,-130.5 114,-127 Q122.5,-123.5 126.5,-115" stroke-width="3.2" fill="none" /><path d="M0,-149.7 H57" stroke-width="5.6" fill="none" /><path d="M57,-147 V-166" stroke-width="3.2" fill="none" /><path d="M0,-109.5 H52.5 L55.5,-112.5 V-113.5 H0" stroke-width="1.4" fill="none" /><path d="M51.5,-147 V-113" stroke-width="3.0" fill="none" /><path d="M0,-126.3 H33" stroke-width="1.3" fill="none" /><path d="M33,-126.5 Q38,-130.5 44,-128.5 Q48,-126.5 51.5,-121 M33,-126.5 L27.5,-113.5 M37,-127.5 L30.5,-113.5 M44,-128.5 L49,-115 M39.5,-122 L47,-116.5" stroke-width="1.1" fill="none" /><path d="M45.9,-182.6 L49,-194 Q49.5,-207.5 35,-208 Q21.5,-207.5 21.2,-196 L19.7,-186.1" stroke-width="5.0" fill="none" /><path d="M56,-191 Q56.5,-214 40,-217 Q22,-219.5 14.5,-206 L13.5,-199" stroke-width="3.0" fill="none" /><path d="M61,-187.5 L57.5,-203" stroke-width="3.0" fill="none" /></g>
<circle cx="141.6" cy="81.7" r="18.6" stroke-width="5.4" stroke="#3a3638"/>
<circle cx="81.8" cy="141.6" r="18.6" stroke-width="5.4" stroke="#3a3638"/>
<circle cx="-81.7" cy="141.6" r="18.6" stroke-width="5.4" stroke="#3a3638"/>
<circle cx="-141.6" cy="81.7" r="18.6" stroke-width="5.4" stroke="#3a3638"/>
<circle cx="-141.6" cy="-81.8" r="18.6" stroke-width="5.4" stroke="#3a3638"/>
<circle cx="-81.8" cy="-141.6" r="18.6" stroke-width="5.4" stroke="#3a3638"/>
<circle cx="81.8" cy="-141.6" r="18.6" stroke-width="5.4" stroke="#3a3638"/>
<circle cx="141.6" cy="-81.8" r="18.6" stroke-width="5.4" stroke="#3a3638"/>
<circle cx="0" cy="0" r="175.2" stroke-width="11.6"/>
<circle cx="0" cy="0" r="184.6" stroke-width="3.6"/>
<circle cx="0" cy="0" r="173.3" stroke-width="1.0" stroke="#9a9798"/>
<circle cx="0" cy="0" r="176.6" stroke-width="0.6" stroke="#6a6768"/>
<circle cx="141.6" cy="81.7" r="15.6" stroke="none" fill="#fff"/>
<circle cx="141.6" cy="81.7" r="8.0" stroke-width="7.1"/>
<circle cx="81.8" cy="141.6" r="15.6" stroke="none" fill="#fff"/>
<circle cx="81.8" cy="141.6" r="8.0" stroke-width="7.1"/>
<circle cx="-81.7" cy="141.6" r="15.6" stroke="none" fill="#fff"/>
<circle cx="-81.7" cy="141.6" r="8.0" stroke-width="7.1"/>
<circle cx="-141.6" cy="81.7" r="15.6" stroke="none" fill="#fff"/>
<circle cx="-141.6" cy="81.7" r="8.0" stroke-width="7.1"/>
<circle cx="-141.6" cy="-81.8" r="15.6" stroke="none" fill="#fff"/>
<circle cx="-141.6" cy="-81.8" r="8.0" stroke-width="7.1"/>
<circle cx="-81.8" cy="-141.6" r="15.6" stroke="none" fill="#fff"/>
<circle cx="-81.8" cy="-141.6" r="8.0" stroke-width="7.1"/>
<circle cx="81.8" cy="-141.6" r="15.6" stroke="none" fill="#fff"/>
<circle cx="81.8" cy="-141.6" r="8.0" stroke-width="7.1"/>
<circle cx="141.6" cy="-81.8" r="15.6" stroke="none" fill="#fff"/>
<circle cx="141.6" cy="-81.8" r="8.0" stroke-width="7.1"/>
<circle cx="-65.8" cy="-66.89999999999999" r="21.3" stroke-width="3.4"/><circle cx="-65.8" cy="-66.89999999999999" r="18.2" stroke-width="1.2"/>
<circle cx="-65.8" cy="65.7" r="21.3" stroke-width="3.4"/><circle cx="-65.8" cy="65.7" r="18.2" stroke-width="1.2"/>
<circle cx="66.8" cy="-66.89999999999999" r="21.3" stroke-width="3.4"/><circle cx="66.8" cy="-66.89999999999999" r="18.2" stroke-width="1.2"/>
<circle cx="66.8" cy="65.7" r="21.3" stroke-width="3.4"/><circle cx="66.8" cy="65.7" r="18.2" stroke-width="1.2"/>
<circle cx="0" cy="-68" r="17.8" stroke-width="3.2"/>
<line x1="-17" y1="-67" x2="17" y2="-67" stroke-width="1.3"/>
<circle cx="0" cy="68" r="17.8" stroke-width="3.2"/>
<line x1="-17" y1="69" x2="17" y2="69" stroke-width="1.3"/>
<circle cx="-68" cy="0" r="17.8" stroke-width="3.2"/>
<line x1="-67" y1="-17" x2="-67" y2="17" stroke-width="1.3"/>
<circle cx="68" cy="0" r="17.8" stroke-width="3.2"/>
<line x1="69" y1="-17" x2="69" y2="17" stroke-width="1.3"/>
<circle cx="0" cy="0" r="8.3" stroke-width="4.6"/>
</g>
<line x1="732.90" y1="781.70" x2="732.90" y2="870.00" stroke="#231f20" stroke-width="2.1" stroke-linecap="butt"/>
<line x1="732.90" y1="913.70" x2="732.90" y2="977.00" stroke="#231f20" stroke-width="2.1" stroke-linecap="butt"/>
<line x1="970.10" y1="784.40" x2="970.10" y2="977.00" stroke="#231f20" stroke-width="2.1" stroke-linecap="butt"/>
<polygon points="732.90,798.20 760.10,782.20 760.10,814.20" fill="#231f20"/>
<line x1="759.00" y1="798.20" x2="820.40" y2="798.20" stroke="#231f20" stroke-width="2.1" stroke-linecap="butt"/>
<g transform="translate(832.20,783.80) rotate(0) scale(1.0)" fill="none" stroke="#231f20" stroke-width="3.4" stroke-linejoin="miter" stroke-linecap="butt"><path transform="translate(1.70,1.70)" d="M7.4,0 A5.9,5.9 0 1 1 7.4,11.8 A5.9,5.9 0 1 1 7.4,0 Z"/><path transform="translate(1.70,1.70)" d="M7.4,12.2 A7.4,7.4 0 1 1 7.4,27 A7.4,7.4 0 1 1 7.4,12.2 Z"/><path transform="translate(22.70,1.70)" d="M9.1,0 A9.1,13.5 0 1 1 9.1,27 A9.1,13.5 0 1 1 9.1,0 Z"/></g>
<line x1="882.70" y1="798.20" x2="944.00" y2="798.20" stroke="#231f20" stroke-width="2.1" stroke-linecap="butt"/>
<polygon points="970.10,798.20 942.90,782.20 942.90,814.20" fill="#231f20"/>
<line x1="792.00" y1="821.00" x2="792.00" y2="933.40" stroke="#231f20" stroke-width="2.1" stroke-linecap="butt"/>
<polygon points="792.00,844.00 819.20,828.00 819.20,860.00" fill="#231f20"/>
<line x1="818.00" y1="844.00" x2="852.00" y2="844.00" stroke="#231f20" stroke-width="2.1" stroke-linecap="butt"/>
<g transform="translate(854.40,829.40) rotate(0) scale(1.0)" fill="none" stroke="#231f20" stroke-width="3.4" stroke-linejoin="miter" stroke-linecap="butt"><path transform="translate(1.70,1.70)" d="M18.0,0 H5.9 L4.4,10.6 A8.85,8.85 0 1 1 0.5,23.1"/><path transform="translate(29.70,1.70)" d="M9.1,0 A9.1,9.1 0 1 1 9.1,18.2 A9.1,9.1 0 1 1 9.1,0 Z"/><path transform="translate(29.70,1.70)" d="M16.6,14.2 L5.4,27.9"/></g>
<line x1="910.20" y1="844.00" x2="944.00" y2="844.00" stroke="#231f20" stroke-width="2.1" stroke-linecap="butt"/>
<polygon points="970.10,844.00 942.90,828.00 942.90,860.00" fill="#231f20"/>
<g transform="translate(605.50,875.40) rotate(0) scale(1.0)" fill="none" stroke="#231f20" stroke-width="3.4" stroke-linejoin="miter" stroke-linecap="butt"><path transform="translate(1.70,1.70)" d="M1.0,6.6 A6.1,6.1 0 1 1 7.1,12.3 A7.6,7.45 0 1 1 0.3,21.9"/><path transform="translate(27.97,1.70)" d="M-0.8,1.75 L5.0,0.35 V28.7"/><path transform="translate(44.04,1.70)" d="M-0.6,33.2 L17.2,-3.6"/><path transform="translate(59.61,1.70)" d="M14.8,28.5 V0.2 L1.0,21.6 H20.2"/><path transform="translate(89.39,1.70)" d="M-0.8,1.75 L5.0,0.35 V28.7"/><path transform="translate(105.46,1.70)" d="M-0.6,33.2 L17.2,-3.6"/><path transform="translate(124.53,1.70)" d="M18.0,0 H5.9 L4.4,10.6 A8.85,8.85 0 1 1 0.5,23.1"/><path transform="translate(152.30,1.70)" d="M-0.8,1.75 L5.0,0.35 V28.7"/></g>
<line x1="771.00" y1="890.00" x2="922.00" y2="890.00" stroke="#231f20" stroke-width="2.1" stroke-linecap="butt"/>
<polygon points="792.00,890.00 819.20,874.00 819.20,906.00" fill="#231f20"/>
<polygon points="949.70,890.00 922.50,874.00 922.50,906.00" fill="#231f20"/>
<line x1="949.70" y1="871.00" x2="949.70" y2="939.00" stroke="#231f20" stroke-width="2.1" stroke-linecap="butt"/>
<line x1="910.20" y1="915.30" x2="944.00" y2="915.30" stroke="#231f20" stroke-width="2.1" stroke-linecap="butt"/>
<polygon points="970.10,915.30 942.90,899.30 942.90,931.30" fill="#231f20"/>
<g transform="translate(986.00,900.80) rotate(0) scale(1.0)" fill="none" stroke="#231f20" stroke-width="3.4" stroke-linejoin="miter" stroke-linecap="butt"><path transform="translate(1.70,1.70)" d="M0,9.2 V7.9 A7.9,7.9 0 1 1 13.8,13.2 L2.3,27 H17.5"/><path transform="translate(33.80,1.70)" d="M7.4,0 A5.9,5.9 0 1 1 7.4,11.8 A5.9,5.9 0 1 1 7.4,0 Z"/><path transform="translate(33.80,1.70)" d="M7.4,12.2 A7.4,7.4 0 1 1 7.4,27 A7.4,7.4 0 1 1 7.4,12.2 Z"/></g>
<polygon points="1052.90,915.30 1080.10,899.30 1080.10,931.30" fill="#231f20"/>
<line x1="1079.00" y1="915.30" x2="1112.00" y2="915.30" stroke="#231f20" stroke-width="2.1" stroke-linecap="butt"/>
<line x1="1052.90" y1="892.00" x2="1052.90" y2="977.00" stroke="#231f20" stroke-width="2.1" stroke-linecap="butt"/>
<g transform="translate(756.6,937.8) rotate(0)" fill="none" stroke="#231f20" stroke-linejoin="miter" stroke-linecap="butt"><path stroke-width="2.9" d="M1.45,26.6 V1.45 H8.3 A6.45,6.45 0 0 1 8.3,14.35 H1.45 M8.2,14.35 L16.2,26.6"/><path stroke-width="2.9" d="M29.15,7.2 V35.6 M29.15,17.15 A6.9,8.0 0 1 1 29.15,17.2"/><ellipse cx="36.0" cy="17.15" rx="6.9" ry="8.0" stroke-width="2.9"/><path stroke-width="2.2" d="M56.6,2.6 A3.4,3.3 0 1 1 61.2,6.6 A4.0,4.0 0 1 1 56.0,11.6"/><path stroke-width="2.2" d="M64.6,27.2 L84.0,-2.6"/><path stroke-width="2.2" d="M86.2,26.6 V11.4 L77.8,22.4 H90.0"/></g>
<g transform="translate(756.6,1355.1) rotate(0)" fill="none" stroke="#231f20" stroke-linejoin="miter" stroke-linecap="butt"><path stroke-width="2.9" d="M1.45,26.6 V1.45 H8.3 A6.45,6.45 0 0 1 8.3,14.35 H1.45 M8.2,14.35 L16.2,26.6"/><path stroke-width="2.9" d="M29.15,7.2 V35.6 M29.15,17.15 A6.9,8.0 0 1 1 29.15,17.2"/><ellipse cx="36.0" cy="17.15" rx="6.9" ry="8.0" stroke-width="2.9"/><path stroke-width="2.2" d="M56.6,2.6 A3.4,3.3 0 1 1 61.2,6.6 A4.0,4.0 0 1 1 56.0,11.6"/><path stroke-width="2.2" d="M64.6,27.2 L84.0,-2.6"/><path stroke-width="2.2" d="M86.2,26.6 V11.4 L77.8,22.4 H90.0"/></g>
<g transform="translate(692.2,1213) rotate(-90)" fill="none" stroke="#231f20" stroke-linejoin="miter" stroke-linecap="butt"><path stroke-width="2.9" d="M1.45,26.6 V1.45 H8.3 A6.45,6.45 0 0 1 8.3,14.35 H1.45 M8.2,14.35 L16.2,26.6"/><path stroke-width="2.9" d="M29.15,7.2 V35.6 M29.15,17.15 A6.9,8.0 0 1 1 29.15,17.2"/><ellipse cx="36.0" cy="17.15" rx="6.9" ry="8.0" stroke-width="2.9"/><path stroke-width="2.2" d="M56.6,2.6 A3.4,3.3 0 1 1 61.2,6.6 A4.0,4.0 0 1 1 56.0,11.6"/><path stroke-width="2.2" d="M64.6,27.2 L84.0,-2.6"/><path stroke-width="2.2" d="M86.2,26.6 V11.4 L77.8,22.4 H90.0"/></g>
<line x1="646.40" y1="994.60" x2="741.00" y2="994.60" stroke="#231f20" stroke-width="2.1" stroke-linecap="butt"/>
<line x1="646.40" y1="1331.40" x2="741.00" y2="1331.40" stroke="#231f20" stroke-width="2.1" stroke-linecap="butt"/>
<polygon points="666.00,994.80 650.00,1022.00 682.00,1022.00" fill="#231f20"/>
<line x1="666.00" y1="1021.00" x2="666.00" y2="1106.40" stroke="#231f20" stroke-width="2.1" stroke-linecap="butt"/>
<g transform="translate(651.10,1202.00) rotate(-90) scale(1.0)" fill="none" stroke="#231f20" stroke-width="3.4" stroke-linejoin="miter" stroke-linecap="butt"><path transform="translate(1.70,1.70)" d="M-0.8,1.75 L5.0,0.35 V28.7"/><path transform="translate(30.95,1.70)" d="M-0.8,1.75 L5.0,0.35 V28.7"/><path transform="translate(55.20,1.70)" d="M14.8,28.5 V0.2 L1.0,21.6 H20.2"/></g>
<line x1="666.00" y1="1226.80" x2="666.00" y2="1306.00" stroke="#231f20" stroke-width="2.1" stroke-linecap="butt"/>
<polygon points="666.00,1331.20 650.00,1304.00 682.00,1304.00" fill="#231f20"/>
<line x1="1060.70" y1="980.40" x2="1147.00" y2="980.40" stroke="#231f20" stroke-width="2.1" stroke-linecap="butt"/>
<line x1="1060.70" y1="1344.60" x2="1147.00" y2="1344.60" stroke="#231f20" stroke-width="2.1" stroke-linecap="butt"/>
<polygon points="1124.30,980.60 1108.30,1007.80 1140.30,1007.80" fill="#231f20"/>
<line x1="1124.30" y1="1006.00" x2="1124.30" y2="1085.70" stroke="#231f20" stroke-width="2.1" stroke-linecap="butt"/>
<g transform="translate(1107.50,1173.20) rotate(-90) scale(1.0)" fill="none" stroke="#231f20" stroke-width="3.4" stroke-linejoin="miter" stroke-linecap="butt"><path transform="translate(1.70,1.70)" d="M-0.8,1.75 L5.0,0.35 V28.7"/><path transform="translate(24.85,1.70)" d="M0,9.2 V7.9 A7.9,7.9 0 1 1 13.8,13.2 L2.3,27 H17.5"/><path transform="translate(57.50,1.70)" d="M0,9.2 V7.9 A7.9,7.9 0 1 1 13.8,13.2 L2.3,27 H17.5"/></g>
<circle cx="1122.70" cy="1217.00" r="15.00" fill="none" stroke="#231f20" stroke-width="2.2"/>
<line x1="1100.20" y1="1203.60" x2="1145.50" y2="1236.70" stroke="#231f20" stroke-width="2.1" stroke-linecap="butt"/>
<line x1="1124.30" y1="1248.20" x2="1124.30" y2="1319.00" stroke="#231f20" stroke-width="2.1" stroke-linecap="butt"/>
<polygon points="1124.30,1344.40 1108.30,1317.20 1140.30,1317.20" fill="#231f20"/>
<line x1="733.70" y1="1349.00" x2="733.70" y2="1494.00" stroke="#231f20" stroke-width="2.1" stroke-linecap="butt"/>
<line x1="792.80" y1="1392.60" x2="792.80" y2="1442.70" stroke="#231f20" stroke-width="2.1" stroke-linecap="butt"/>
<line x1="677.70" y1="1418.20" x2="708.00" y2="1418.20" stroke="#231f20" stroke-width="2.1" stroke-linecap="butt"/>
<polygon points="733.70,1418.20 706.50,1402.20 706.50,1434.20" fill="#231f20"/>
<g transform="translate(741.80,1403.40) rotate(0) scale(1.0)" fill="none" stroke="#231f20" stroke-width="3.4" stroke-linejoin="miter" stroke-linecap="butt"><path transform="translate(1.70,1.70)" d="M0,9.2 V7.9 A7.9,7.9 0 1 1 13.8,13.2 L2.3,27 H17.5"/><path transform="translate(36.30,1.70)" d="M-0.8,1.75 L5.0,0.35 V28.7"/></g>
<polygon points="792.80,1418.20 820.00,1402.20 820.00,1434.20" fill="#231f20"/>
<line x1="819.00" y1="1418.20" x2="844.80" y2="1418.20" stroke="#231f20" stroke-width="2.1" stroke-linecap="butt"/>
<line x1="893.30" y1="1418.20" x2="922.00" y2="1418.20" stroke="#231f20" stroke-width="2.1" stroke-linecap="butt"/>
<polygon points="948.50,1418.20 921.30,1402.20 921.30,1434.20" fill="#231f20"/>
<polygon points="970.10,1418.20 997.30,1402.20 997.30,1434.20" fill="#231f20"/>
<line x1="996.00" y1="1418.20" x2="1027.30" y2="1418.20" stroke="#231f20" stroke-width="2.1" stroke-linecap="butt"/>
<g transform="translate(1033.20,1403.40) rotate(0) scale(1.0)" fill="none" stroke="#231f20" stroke-width="3.4" stroke-linejoin="miter" stroke-linecap="butt"><path transform="translate(1.70,1.70)" d="M7.4,0 A5.9,5.9 0 1 1 7.4,11.8 A5.9,5.9 0 1 1 7.4,0 Z"/><path transform="translate(1.70,1.70)" d="M7.4,12.2 A7.4,7.4 0 1 1 7.4,27 A7.4,7.4 0 1 1 7.4,12.2 Z"/><path transform="translate(26.67,1.70)" d="M-0.6,33.2 L17.2,-3.6"/><path transform="translate(47.83,1.70)" d="M-0.8,1.75 L5.0,0.35 V28.7"/><path transform="translate(64.50,1.70)" d="M7.4,0 A5.9,5.9 0 1 1 7.4,11.8 A5.9,5.9 0 1 1 7.4,0 Z"/><path transform="translate(64.50,1.70)" d="M7.4,12.2 A7.4,7.4 0 1 1 7.4,27 A7.4,7.4 0 1 1 7.4,12.2 Z"/><path transform="translate(89.47,1.70)" d="M-0.6,33.2 L17.2,-3.6"/><path transform="translate(109.13,1.70)" d="M0,9.2 V7.9 A7.9,7.9 0 1 1 13.8,13.2 L2.3,27 H17.5"/><path transform="translate(135.30,1.70)" d="M7.4,0 A5.9,5.9 0 1 1 7.4,11.8 A5.9,5.9 0 1 1 7.4,0 Z"/><path transform="translate(135.30,1.70)" d="M7.4,12.2 A7.4,7.4 0 1 1 7.4,27 A7.4,7.4 0 1 1 7.4,12.2 Z"/></g>
<line x1="948.50" y1="1345.00" x2="948.50" y2="1440.00" stroke="#231f20" stroke-width="2.1" stroke-linecap="butt"/>
<line x1="970.10" y1="1345.00" x2="970.10" y2="1440.00" stroke="#231f20" stroke-width="2.1" stroke-linecap="butt"/>
<line x1="1052.90" y1="1345.00" x2="1052.90" y2="1389.00" stroke="#231f20" stroke-width="2.1" stroke-linecap="butt"/>
<line x1="1052.90" y1="1443.80" x2="1052.90" y2="1494.00" stroke="#231f20" stroke-width="2.1" stroke-linecap="butt"/>
<polygon points="733.70,1469.50 760.90,1453.50 760.90,1485.50" fill="#231f20"/>
<line x1="760.00" y1="1469.50" x2="826.30" y2="1469.50" stroke="#231f20" stroke-width="2.1" stroke-linecap="butt"/>
<g transform="translate(850.20,1454.60) rotate(0) scale(1.0)" fill="none" stroke="#231f20" stroke-width="3.4" stroke-linejoin="miter" stroke-linecap="butt"><path transform="translate(1.70,1.70)" d="M-0.8,1.75 L5.0,0.35 V28.7"/><path transform="translate(25.05,1.70)" d="M9.1,0 A9.1,13.5 0 1 1 9.1,27 A9.1,13.5 0 1 1 9.1,0 Z"/><path transform="translate(60.10,1.70)" d="M7.4,0 A5.9,5.9 0 1 1 7.4,11.8 A5.9,5.9 0 1 1 7.4,0 Z"/><path transform="translate(60.10,1.70)" d="M7.4,12.2 A7.4,7.4 0 1 1 7.4,27 A7.4,7.4 0 1 1 7.4,12.2 Z"/></g>
<line x1="946.50" y1="1469.50" x2="1027.00" y2="1469.50" stroke="#231f20" stroke-width="2.1" stroke-linecap="butt"/>
<polygon points="1052.90,1469.50 1025.70,1453.50 1025.70,1485.50" fill="#231f20"/>
<path d="M734.4,977.7 H853 M734.4,1345.5 H853" fill="none" stroke="#231f20" stroke-width="3.2" stroke-linejoin="round" stroke-linecap="butt" />
<line x1="734.40" y1="976.20" x2="734.40" y2="1347.00" stroke="#231f20" stroke-width="3.0" stroke-linecap="butt"/>
<line x1="734.40" y1="983.40" x2="853.00" y2="983.40" stroke="#231f20" stroke-width="2.0" stroke-linecap="butt"/>
<line x1="734.40" y1="1350.20" x2="853.00" y2="1350.20" stroke="#231f20" stroke-width="2.0" stroke-linecap="butt"/>
<line x1="853.00" y1="977.70" x2="902.00" y2="977.70" stroke="#231f20" stroke-width="1.8" stroke-linecap="butt"/>
<line x1="860.80" y1="977.70" x2="860.80" y2="1102.90" stroke="#231f20" stroke-width="2.6" stroke-linecap="butt"/>
<line x1="860.80" y1="1102.90" x2="901.80" y2="1102.90" stroke="#231f20" stroke-width="2.6" stroke-linecap="butt"/>
<line x1="860.80" y1="1125.00" x2="860.80" y2="1336.00" stroke="#231f20" stroke-width="2.6" stroke-linecap="butt"/>
<line x1="860.80" y1="1336.00" x2="901.80" y2="1336.00" stroke="#231f20" stroke-width="2.6" stroke-linecap="butt"/>
<line x1="860.80" y1="1340.50" x2="901.80" y2="1340.50" stroke="#231f20" stroke-width="1.5" stroke-linecap="butt"/>
<path d="M853,1346.5 H861 v-2.5 h6 v2.5 h9 v-2.5 h6 v2.5 h9 v-2.5 h6 v2.5 H901" fill="none" stroke="#231f20" stroke-width="1.6" stroke-linejoin="miter" stroke-linecap="butt" />
<path d="M764.3,985 V1071.9 H734.4 M764.3,1340 V1254.2 H734.4" fill="none" stroke="#231f20" stroke-width="2.6" stroke-linejoin="miter" stroke-linecap="butt" />
<line x1="736.00" y1="1030.00" x2="764.00" y2="1030.00" stroke="#231f20" stroke-width="1.2" stroke-linecap="butt"/>
<line x1="736.00" y1="1033.00" x2="764.00" y2="1033.00" stroke="#231f20" stroke-width="1.2" stroke-linecap="butt"/>
<line x1="736.00" y1="1294.00" x2="764.00" y2="1294.00" stroke="#231f20" stroke-width="1.2" stroke-linecap="butt"/>
<line x1="736.00" y1="1297.00" x2="764.00" y2="1297.00" stroke="#231f20" stroke-width="1.2" stroke-linecap="butt"/>
<line x1="750.00" y1="1056.00" x2="755.00" y2="1071.00" stroke="#231f20" stroke-width="1.5" stroke-linecap="butt"/>
<line x1="760.00" y1="1088.00" x2="767.00" y2="1106.00" stroke="#231f20" stroke-width="1.5" stroke-linecap="butt"/>
<line x1="760.00" y1="1237.00" x2="767.00" y2="1219.00" stroke="#231f20" stroke-width="1.5" stroke-linecap="butt"/>
<line x1="750.00" y1="1271.00" x2="743.00" y2="1288.00" stroke="#231f20" stroke-width="1.5" stroke-linecap="butt"/>
<path d="M765,986 Q800,993 853,984 M765,1340 Q800,1333 853,1342" fill="none" stroke="#231f20" stroke-width="1.8" stroke-linejoin="round" stroke-linecap="round" />
<rect x="819.00" y="984.00" width="34.00" height="10.40" rx="2.5" fill="none" stroke="#231f20" stroke-width="2.8"/>
<ellipse cx="835.50" cy="989.20" rx="5.50" ry="2.60" fill="#231f20" stroke="#231f20" stroke-width="0"/>
<rect x="819.00" y="1332.00" width="34.00" height="10.40" rx="2.5" fill="none" stroke="#231f20" stroke-width="2.8"/>
<ellipse cx="835.50" cy="1337.20" rx="5.50" ry="2.60" fill="#231f20" stroke="#231f20" stroke-width="0"/>
<path d="M743.3,1038 V996 H843 V1060 M743.3,1289 V1328.4 H843 V1266" fill="none" stroke="#231f20" stroke-width="1.7" stroke-linejoin="miter" stroke-linecap="butt" stroke-dasharray="15 5" />
<path d="M743.3,1038.2 H761 M777,1038.2 H815 M823,1038.2 H843 M743.3,1289.5 H761 M777,1289.5 H815 M823,1289.5 H843" fill="none" stroke="#231f20" stroke-width="1.7" stroke-linejoin="round" stroke-linecap="butt" />
<path d="M793.2,1040 V1106 M793.2,1222 V1288 M828.6,1040 V1094 M828.6,1234 V1288" fill="none" stroke="#231f20" stroke-width="1.7" stroke-linejoin="round" stroke-linecap="butt" stroke-dasharray="17 7" />
<path d="M793.2,1046 Q793.2,1038.2 801,1038.2 M793.2,1281 Q793.2,1289.5 801,1289.5" fill="none" stroke="#231f20" stroke-width="1.6" stroke-linejoin="round" stroke-linecap="round" />
<path d="M823,1038.2 L829,1038.2 L829,1052 L838,1052 L842,1039 M823,1289.5 L829,1289.5 L829,1276 L838,1276 L842,1289" fill="none" stroke="#231f20" stroke-width="1.6" stroke-linejoin="miter" stroke-linecap="butt" />
<rect x="820.60" y="1089.50" width="32.20" height="33.60" rx="3.5" fill="none" stroke="#231f20" stroke-width="3.2"/>
<circle cx="835.80" cy="1106.20" r="4.20" fill="none" stroke="#231f20" stroke-width="2.6"/>
<rect x="820.60" y="1203.60" width="32.20" height="33.60" rx="3.5" fill="none" stroke="#231f20" stroke-width="3.2"/>
<circle cx="835.80" cy="1220.30" r="4.20" fill="none" stroke="#231f20" stroke-width="2.6"/>
<line x1="736.00" y1="1122.70" x2="750.00" y2="1122.70" stroke="#231f20" stroke-width="2.6" stroke-linecap="butt"/>
<line x1="736.00" y1="1203.00" x2="750.00" y2="1203.00" stroke="#231f20" stroke-width="2.6" stroke-linecap="butt"/>
<circle cx="794.60" cy="1163.00" r="57.60" fill="#fff" stroke="#231f20" stroke-width="5.0"/>
<circle cx="794.60" cy="1163.00" r="53.60" fill="none" stroke="#231f20" stroke-width="1.0"/>
<circle cx="794.60" cy="1163.00" r="48.20" fill="none" stroke="#231f20" stroke-width="6.6"/>
<circle cx="794.60" cy="1163.00" r="35.00" fill="none" stroke="#231f20" stroke-width="3.0"/>
<circle cx="794.6" cy="1163.0" r="39.3" fill="none" stroke="#231f20" stroke-width="2.4" stroke-dasharray="16 47" stroke-dashoffset="-8"/>
<circle cx="794.60" cy="1163.00" r="26.90" fill="none" stroke="#231f20" stroke-width="1.5"/>
<circle cx="794.60" cy="1163.00" r="20.00" fill="none" stroke="#231f20" stroke-width="1.6"/>
<path d="M793.1,1143.3 A19.7,19.7 0 0 1 793.1,1182.7" fill="none" stroke="#231f20" stroke-width="3.6" stroke-linejoin="round" stroke-linecap="butt" />
<line x1="792.80" y1="1143.00" x2="792.80" y2="1183.00" stroke="#231f20" stroke-width="1.6" stroke-linecap="butt"/>
<path d="M867.4,978 V1005 L883,1027 Q885.2,1028.5 885.2,1025 V981 Q885,977.5 881,977.5 H871 Q867.4,977.5 867.4,981" fill="none" stroke="#231f20" stroke-width="2.6" stroke-linejoin="round" stroke-linecap="round" />
<path d="M869,982 Q871,985.5 875,983.5" fill="none" stroke="#231f20" stroke-width="3.2" stroke-linejoin="round" stroke-linecap="round" />
<path d="M890.7,981 V991 L899,998.5 M890.7,981 Q891,977.5 895,977.5 H900" fill="none" stroke="#231f20" stroke-width="2.6" stroke-linejoin="round" stroke-linecap="round" />
<path d="M861.5,1128.5 Q861.5,1125.3 864.8,1125.3 Q868.5,1125.3 868.5,1128.5 V1187.7 H875.2 V1197.7 H868.5 V1256.4 L882.5,1282 Q885.2,1285.5 885.2,1281 V1128.5 Q885.2,1125.3 889,1125.3 Q892.9,1125.3 892.9,1128.5 V1187.7 H899.4 V1197.7 H893.6 Q891.5,1216 901.5,1236" fill="none" stroke="#231f20" stroke-width="3.0" stroke-linejoin="round" stroke-linecap="round" />
<line x1="901.80" y1="973.20" x2="901.80" y2="1352.00" stroke="#231f20" stroke-width="2.8" stroke-linecap="butt"/>
<path d="M901.8,973.5 L906,972 H932" fill="none" stroke="#231f20" stroke-width="2.4" stroke-linejoin="round" stroke-linecap="round" />
<path d="M901.8,1351.5 L906,1353 H932" fill="none" stroke="#231f20" stroke-width="2.4" stroke-linejoin="round" stroke-linecap="round" />
<rect x="902.00" y="1013.50" width="30.00" height="5.00" rx="0" fill="#231f20" stroke="#231f20" stroke-width="0"/>
<rect x="902.00" y="1027.00" width="30.00" height="5.00" rx="0" fill="#231f20" stroke="#231f20" stroke-width="0"/>
<rect x="902.00" y="1289.00" width="30.00" height="5.00" rx="0" fill="#231f20" stroke="#231f20" stroke-width="0"/>
<rect x="902.00" y="1302.00" width="30.00" height="6.00" rx="0" fill="#231f20" stroke="#231f20" stroke-width="0"/>
<line x1="902.00" y1="1022.50" x2="932.00" y2="1022.50" stroke="#231f20" stroke-width="1.2" stroke-linecap="butt"/>
<line x1="902.00" y1="1298.00" x2="932.00" y2="1298.00" stroke="#231f20" stroke-width="1.2" stroke-linecap="butt"/>
<line x1="902.00" y1="1055.00" x2="932.00" y2="1055.00" stroke="#231f20" stroke-width="2.0" stroke-linecap="butt"/>
<line x1="902.00" y1="1099.50" x2="932.00" y2="1099.50" stroke="#231f20" stroke-width="2.4" stroke-linecap="butt"/>
<line x1="902.00" y1="1103.50" x2="932.00" y2="1103.50" stroke="#231f20" stroke-width="1.2" stroke-linecap="butt"/>
<line x1="902.00" y1="1107.00" x2="932.00" y2="1107.00" stroke="#231f20" stroke-width="2.0" stroke-linecap="butt"/>
<path d="M902,1123.5 L932,1127" fill="none" stroke="#231f20" stroke-width="2.0" stroke-linejoin="round" stroke-linecap="round" />
<line x1="902.00" y1="1181.00" x2="932.00" y2="1181.00" stroke="#231f20" stroke-width="2.6" stroke-linecap="butt"/>
<line x1="902.00" y1="1243.00" x2="932.00" y2="1243.00" stroke="#231f20" stroke-width="2.4" stroke-linecap="butt"/>
<line x1="917.00" y1="1239.00" x2="932.00" y2="1239.00" stroke="#231f20" stroke-width="1.4" stroke-linecap="butt"/>
<path d="M916,1181 L908,1240 M921,1181 L916,1240 M916,1209 H932 M916,1209 V1240" fill="none" stroke="#231f20" stroke-width="2.0" stroke-linejoin="round" stroke-linecap="round" />
<path d="M933.5,941.5 Q933.5,939 936,939 H945.5 Q948,939 948,941.5 V1386 Q948,1388.5 945.5,1388.5 H936 Q933.5,1388.5 933.5,1386 Z" fill="#fff" stroke="#231f20" stroke-width="2.2" stroke-linejoin="round" stroke-linecap="round" />
<rect x="936.60" y="942.50" width="9.60" height="67.00" rx="0" fill="#231f20" stroke="#231f20" stroke-width="0"/>
<rect x="936.60" y="1017.80" width="9.60" height="65.20" rx="0" fill="#231f20" stroke="#231f20" stroke-width="0"/>
<rect x="936.60" y="1241.00" width="9.60" height="64.00" rx="0" fill="#231f20" stroke="#231f20" stroke-width="0"/>
<rect x="936.60" y="1325.00" width="9.60" height="57.50" rx="0" fill="#231f20" stroke="#231f20" stroke-width="0"/>
<rect x="937.00" y="1010.50" width="9.00" height="6.50" rx="0" fill="none" stroke="#231f20" stroke-width="1.6"/>
<rect x="937.00" y="1306.00" width="9.00" height="18.00" rx="0" fill="none" stroke="#231f20" stroke-width="1.6"/>
<line x1="936.80" y1="1083.00" x2="936.80" y2="1241.00" stroke="#231f20" stroke-width="1.4" stroke-linecap="butt"/>
<line x1="941.70" y1="1083.00" x2="941.70" y2="1241.00" stroke="#231f20" stroke-width="1.4" stroke-linecap="butt"/>
<line x1="946.20" y1="1083.00" x2="946.20" y2="1241.00" stroke="#231f20" stroke-width="1.4" stroke-linecap="butt"/>
<path d="M936,1011 Q932.5,1011 932.5,1014 V1043 Q932.5,1046 936,1046" fill="none" stroke="#231f20" stroke-width="2.2" stroke-linejoin="round" stroke-linecap="round" />
<path d="M936,1056 Q932.5,1056 932.5,1059 V1077 Q932.5,1080 936,1080" fill="none" stroke="#231f20" stroke-width="2.2" stroke-linejoin="round" stroke-linecap="round" />
<path d="M936,1244 Q932.5,1244 932.5,1247 V1269 Q932.5,1272 936,1272" fill="none" stroke="#231f20" stroke-width="2.2" stroke-linejoin="round" stroke-linecap="round" />
<path d="M936,1326 Q932.5,1326 932.5,1329 V1381 Q932.5,1384 936,1384" fill="none" stroke="#231f20" stroke-width="2.2" stroke-linejoin="round" stroke-linecap="round" />
<path d="M949.4,982.8 H1053.6 V1342.9 H949.4" fill="none" stroke="#231f20" stroke-width="3.0" stroke-linejoin="miter" stroke-linecap="butt" />
<path d="M1053.6,1020.9 H968.3 L970.2,1304.1 H1053.6" fill="none" stroke="#231f20" stroke-width="2.8" stroke-linejoin="miter" stroke-linecap="butt" />
<path d="M1053.6,1025.5 H1063 Q1065.8,1025.5 1065.8,1028.5 V1044.5 Q1065.8,1047.5 1063,1047.5 H1053.6 M1053.6,1277.5 H1063 Q1065.8,1277.5 1065.8,1280.5 V1297.7 Q1065.8,1300.7 1063,1300.7 H1053.6" fill="none" stroke="#231f20" stroke-width="2.6" stroke-linejoin="round" stroke-linecap="round" />
<line x1="970.10" y1="1305.00" x2="970.10" y2="1345.00" stroke="#231f20" stroke-width="2.1" stroke-linecap="butt"/>
<line x1="985.00" y1="1057.50" x2="1009.00" y2="1057.50" stroke="#231f20" stroke-width="1.2" stroke-linecap="butt"/>
<polygon points="969.60,1057.50 985.60,1053.90 985.60,1061.10" fill="#231f20"/>
<line x1="1014.30" y1="1094.80" x2="1036.00" y2="1094.80" stroke="#231f20" stroke-width="1.2" stroke-linecap="butt"/>
<polygon points="1052.00,1094.80 1036.00,1091.20 1036.00,1098.40" fill="#231f20"/>
<line x1="1014.30" y1="1235.30" x2="1036.00" y2="1235.30" stroke="#231f20" stroke-width="1.2" stroke-linecap="butt"/>
<polygon points="1052.00,1235.30 1036.00,1231.70 1036.00,1238.90" fill="#231f20"/>
<line x1="985.00" y1="1274.80" x2="1009.00" y2="1274.80" stroke="#231f20" stroke-width="1.2" stroke-linecap="butt"/>
<polygon points="970.60,1274.80 986.60,1271.20 986.60,1278.40" fill="#231f20"/>
<text x="995.50" y="1092.00" font-size="13" text-anchor="start" fill="#231f20" transform="rotate(-90 995.50 1092.00)" >min.</text>
<text x="1044.00" y="1089.00" font-size="13" text-anchor="start" fill="#231f20" transform="rotate(-90 1044.00 1089.00)" >max.</text>
<text x="995.50" y="1271.00" font-size="13" text-anchor="start" fill="#231f20" transform="rotate(-90 995.50 1271.00)" >min.</text>
<text x="1042.50" y="1270.00" font-size="13" text-anchor="start" fill="#231f20" transform="rotate(-90 1042.50 1270.00)" >max.</text>
<line x1="1265.90" y1="780.80" x2="1265.90" y2="1394.00" stroke="#231f20" stroke-width="2.1" stroke-linecap="butt"/>
<line x1="1672.60" y1="780.80" x2="1672.60" y2="893.00" stroke="#231f20" stroke-width="2.1" stroke-linecap="butt"/>
<polygon points="1265.90,805.40 1293.10,789.40 1293.10,821.40" fill="#231f20"/>
<line x1="1292.00" y1="805.40" x2="1423.00" y2="805.40" stroke="#231f20" stroke-width="2.1" stroke-linecap="butt"/>
<g transform="translate(1435.00,791.00) rotate(0) scale(1.0)" fill="none" stroke="#231f20" stroke-width="3.4" stroke-linejoin="miter" stroke-linecap="butt"><path transform="translate(1.70,1.70)" d="M7.4,0 A5.9,5.9 0 1 1 7.4,11.8 A5.9,5.9 0 1 1 7.4,0 Z"/><path transform="translate(1.70,1.70)" d="M7.4,12.2 A7.4,7.4 0 1 1 7.4,27 A7.4,7.4 0 1 1 7.4,12.2 Z"/><path transform="translate(31.10,1.70)" d="M9.1,0 A9.1,9.1 0 1 1 9.1,18.2 A9.1,9.1 0 1 1 9.1,0 Z"/><path transform="translate(31.10,1.70)" d="M16.6,14.2 L5.4,27.9"/></g>
<line x1="1498.00" y1="805.40" x2="1646.00" y2="805.40" stroke="#231f20" stroke-width="2.1" stroke-linecap="butt"/>
<polygon points="1672.90,805.40 1645.70,789.40 1645.70,821.40" fill="#231f20"/>
<line x1="1415.00" y1="1296.00" x2="1415.00" y2="1433.70" stroke="#231f20" stroke-width="2.1" stroke-linecap="butt"/>
<polygon points="1265.90,1318.60 1293.10,1302.60 1293.10,1334.60" fill="#231f20"/>
<line x1="1292.00" y1="1318.60" x2="1300.00" y2="1318.60" stroke="#231f20" stroke-width="2.1" stroke-linecap="butt"/>
<g transform="translate(1320.20,1304.40) rotate(0) scale(1.0)" fill="none" stroke="#231f20" stroke-width="3.4" stroke-linejoin="miter" stroke-linecap="butt"><path transform="translate(1.70,1.70)" d="M18.0,0 H5.9 L4.4,10.6 A8.85,8.85 0 1 1 0.5,23.1"/><path transform="translate(36.10,1.70)" d="M-0.8,1.75 L5.0,0.35 V28.7"/></g>
<line x1="1381.00" y1="1318.60" x2="1389.00" y2="1318.60" stroke="#231f20" stroke-width="2.1" stroke-linecap="butt"/>
<polygon points="1415.00,1318.60 1387.80,1302.60 1387.80,1334.60" fill="#231f20"/>
<line x1="1416.40" y1="1437.70" x2="1520.60" y2="1437.70" stroke="#231f20" stroke-width="2.1" stroke-linecap="butt"/>
<line x1="1371.00" y1="1577.40" x2="1520.60" y2="1577.40" stroke="#231f20" stroke-width="2.1" stroke-linecap="butt"/>
<polygon points="1496.50,1437.90 1480.50,1465.10 1512.50,1465.10" fill="#231f20"/>
<line x1="1496.50" y1="1464.00" x2="1496.50" y2="1475.00" stroke="#231f20" stroke-width="2.1" stroke-linecap="butt"/>
<g transform="translate(1481.80,1528.80) rotate(-90) scale(1.0)" fill="none" stroke="#231f20" stroke-width="3.4" stroke-linejoin="miter" stroke-linecap="butt"><path transform="translate(1.70,1.70)" d="M18.0,0 H5.9 L4.4,10.6 A8.85,8.85 0 1 1 0.5,23.1"/><path transform="translate(34.80,1.70)" d="M-0.8,1.75 L5.0,0.35 V28.7"/></g>
<line x1="1496.50" y1="1538.00" x2="1496.50" y2="1551.00" stroke="#231f20" stroke-width="2.1" stroke-linecap="butt"/>
<polygon points="1496.50,1577.20 1480.50,1550.00 1512.50,1550.00" fill="#231f20"/>
<path d="M1620.5,855 Q1517,959.5 1429.5,1078" fill="none" stroke="#231f20" stroke-width="5.0" stroke-linejoin="round" stroke-linecap="round" />
<path d="M1621.5,857.5 L1433,1077.5" fill="none" stroke="#231f20" stroke-width="5.0" stroke-linejoin="round" stroke-linecap="round" />
<path d="M1620,854.5 L1670.5,898" fill="none" stroke="#231f20" stroke-width="6.0" stroke-linejoin="round" stroke-linecap="round" />
<path d="M1654.8,885.6 L1474.2,1098.1" fill="none" stroke="#231f20" stroke-width="6.0" stroke-linejoin="round" stroke-linecap="round" />
<path d="M1668.3,899 L1487.7,1108.3" fill="none" stroke="#231f20" stroke-width="4.2" stroke-linejoin="round" stroke-linecap="round" />
<path d="M1663,905.5 L1497,1101" fill="none" stroke="#231f20" stroke-width="1.6" stroke-linejoin="round" stroke-linecap="round" />
<path d="M1666,911.5 L1506,1102" fill="none" stroke="#231f20" stroke-width="6.4" stroke-linejoin="round" stroke-linecap="round" />
<path d="M1668.5,914 L1508.5,1105" fill="none" stroke="#231f20" stroke-width="10.2" stroke-linejoin="round" stroke-linecap="round" stroke-dasharray="9 15.5" />
<path d="M1672.5,901 L1669,916" fill="none" stroke="#231f20" stroke-width="5" stroke-linejoin="round" stroke-linecap="round" />
<path d="M1432.9,1077.9 Q1457,1078.5 1473,1093.5" fill="none" stroke="#231f20" stroke-width="2.0" stroke-linejoin="round" stroke-linecap="round" />
<path d="M1430,1106.5 L1467.5,1142" fill="none" stroke="#231f20" stroke-width="2.0" stroke-linejoin="round" stroke-linecap="round" />
<path d="M1428.2,1078.5 Q1433.5,1089 1430,1103 L1376,1295" fill="none" stroke="#231f20" stroke-width="5.4" stroke-linejoin="round" stroke-linecap="round" />
<path d="M1364.3,1344 L1342.9,1412" fill="none" stroke="#231f20" stroke-width="5.4" stroke-linejoin="round" stroke-linecap="round" />
<path d="M1490.5,1180 L1413.7,1435" fill="none" stroke="#231f20" stroke-width="5.4" stroke-linejoin="round" stroke-linecap="round" />
<path d="M1474.2,1093.5 Q1462,1117 1463.3,1137 Q1466,1160 1491,1183" fill="none" stroke="#231f20" stroke-width="5.4" stroke-linejoin="round" stroke-linecap="round" />
<path d="M1474.2,1098.1 L1490,1109.5" fill="none" stroke="#231f20" stroke-width="4.6" stroke-linejoin="round" stroke-linecap="round" />
<path d="M1486,1107 Q1476.5,1122 1478.8,1138 Q1482,1154 1495.5,1162" fill="none" stroke="#231f20" stroke-width="7.6" stroke-linejoin="round" stroke-linecap="round" />
<path d="M1467.5,1142 L1479,1150 L1492,1173" fill="none" stroke="#231f20" stroke-width="1.6" stroke-linejoin="round" stroke-linecap="round" />
<path d="M1472,1150 Q1478,1166 1489,1178" fill="none" stroke="#231f20" stroke-width="1.6" stroke-linejoin="round" stroke-linecap="round" />
<path d="M1489,1108 Q1500,1101.5 1511,1104.5 Q1522.5,1108 1520.3,1119 L1509.5,1160 Q1507.3,1168.3 1499,1168.5 L1494,1168" fill="none" stroke="#231f20" stroke-width="4.6" stroke-linejoin="round" stroke-linecap="round" />
<path d="M1487,1124 L1503.5,1109.5 L1511.5,1113.5 L1500,1158 L1491.5,1160" fill="none" stroke="#231f20" stroke-width="1.8" stroke-linejoin="round" stroke-linecap="round" />
<path d="M1503.5,1109.5 L1497,1150" fill="none" stroke="#231f20" stroke-width="1.5" stroke-linejoin="round" stroke-linecap="round" />
<path d="M1265.9,1394.9 L1413.7,1435 L1366.9,1576.6 L1265.9,1552.6 Z" fill="none" stroke="#231f20" stroke-width="6.0" stroke-linejoin="round" stroke-linecap="round" />
<line x1="1379.00" y1="1428.30" x2="1341.00" y2="1567.30" stroke="#231f20" stroke-width="2.0" stroke-linecap="butt"/>
<path d="M1317,1567.3 L1315.4,1747" fill="none" stroke="#231f20" stroke-width="6.0" stroke-linejoin="round" stroke-linecap="butt" />
<path d="M1361.6,1578 L1360.3,1747" fill="none" stroke="#231f20" stroke-width="6.0" stroke-linejoin="round" stroke-linecap="butt" />
<path d="M1306.5,1748.5 H1369.5 L1372,1811 H1303 Z" fill="none" stroke="#231f20" stroke-width="6.0" stroke-linejoin="round" stroke-linecap="round" />
<path d="M1304,1814.6 H1371.5" fill="none" stroke="#231f20" stroke-width="8.4" stroke-linejoin="round" stroke-linecap="round" />
<line x1="224.30" y1="1549.00" x2="224.30" y2="1673.00" stroke="#231f20" stroke-width="2.1" stroke-linecap="butt"/>
<line x1="382.40" y1="1549.00" x2="382.40" y2="1744.50" stroke="#231f20" stroke-width="2.1" stroke-linecap="butt"/>
<line x1="164.90" y1="1574.00" x2="199.00" y2="1574.00" stroke="#231f20" stroke-width="2.1" stroke-linecap="butt"/>
<polygon points="223.80,1574.00 196.60,1558.00 196.60,1590.00" fill="#231f20"/>
<g transform="translate(242.20,1559.60) rotate(0) scale(1.0)" fill="none" stroke="#231f20" stroke-width="3.4" stroke-linejoin="miter" stroke-linecap="butt"><path transform="translate(1.70,1.70)" d="M14.8,28.5 V0.2 L1.0,21.6 H20.2"/><path transform="translate(32.02,1.70)" d="M-1.5,0 H17.4 L1.5,28.0"/><path transform="translate(58.85,1.70)" d="M-1.5,18.2 H6.5"/><path transform="translate(74.48,1.70)" d="M-1.5,0 H17.4 L1.5,28.0"/><path transform="translate(104.80,1.70)" d="M18.0,0 H5.9 L4.4,10.6 A8.85,8.85 0 1 1 0.5,23.1"/></g>
<polygon points="382.40,1574.00 409.60,1558.00 409.60,1590.00" fill="#231f20"/>
<line x1="408.00" y1="1574.00" x2="441.90" y2="1574.00" stroke="#231f20" stroke-width="2.1" stroke-linecap="butt"/>
<line x1="173.30" y1="1647.60" x2="199.00" y2="1647.60" stroke="#231f20" stroke-width="2.1" stroke-linecap="butt"/>
<polygon points="223.80,1647.60 196.60,1631.60 196.60,1663.60" fill="#231f20"/>
<line x1="264.00" y1="1623.60" x2="264.00" y2="1738.30" stroke="#231f20" stroke-width="2.1" stroke-linecap="butt"/>
<polygon points="264.00,1647.60 291.20,1631.60 291.20,1663.60" fill="#231f20"/>
<line x1="290.00" y1="1647.60" x2="322.90" y2="1647.60" stroke="#231f20" stroke-width="2.1" stroke-linecap="butt"/>
<g transform="translate(333.80,1633.20) rotate(0) scale(1.0)" fill="none" stroke="#231f20" stroke-width="3.4" stroke-linejoin="miter" stroke-linecap="butt"><path transform="translate(1.70,1.70)" d="M-0.8,1.75 L5.0,0.35 V28.7"/><path transform="translate(24.60,1.70)" d="M1.0,6.6 A6.1,6.1 0 1 1 7.1,12.3 A7.6,7.45 0 1 1 0.3,21.9"/></g>
<line x1="0.00" y1="1678.80" x2="119.00" y2="1678.80" stroke="#231f20" stroke-width="2.1" stroke-linecap="butt"/>
<line x1="173.30" y1="1678.80" x2="219.50" y2="1678.80" stroke="#231f20" stroke-width="2.1" stroke-linecap="butt"/>
<line x1="0.00" y1="2121.50" x2="219.50" y2="2121.50" stroke="#231f20" stroke-width="2.1" stroke-linecap="butt"/>
<polygon points="24.60,1679.00 8.60,1706.20 40.60,1706.20" fill="#231f20"/>
<line x1="24.60" y1="1704.00" x2="24.60" y2="1814.80" stroke="#231f20" stroke-width="2.1" stroke-linecap="butt"/>
<g transform="translate(9.60,1946.80) rotate(-90) scale(1.0)" fill="none" stroke="#231f20" stroke-width="3.4" stroke-linejoin="miter" stroke-linecap="butt"><path transform="translate(1.70,1.70)" d="M13.5,0 A13.5,13.5 0 1 1 13.5,27 A13.5,13.5 0 1 1 13.5,0 Z"/><path transform="translate(1.70,1.70)" d="M-0.8,27.8 L27.8,-0.8"/><path transform="translate(46.60,1.70)" d="M-0.8,1.75 L5.0,0.35 V28.7"/><path transform="translate(69.50,1.70)" d="M18.0,0 H5.9 L4.4,10.6 A8.85,8.85 0 1 1 0.5,23.1"/><path transform="translate(102.60,1.70)" d="M9.1,0 A9.1,13.5 0 1 1 9.1,27 A9.1,13.5 0 1 1 9.1,0 Z"/></g>
<line x1="24.60" y1="1958.00" x2="24.60" y2="2095.00" stroke="#231f20" stroke-width="2.1" stroke-linecap="butt"/>
<polygon points="24.60,2121.30 8.60,2094.10 40.60,2094.10" fill="#231f20"/>
<g transform="translate(134.50,1683.20) rotate(-90) scale(1.0)" fill="none" stroke="#231f20" stroke-width="3.4" stroke-linejoin="miter" stroke-linecap="butt"><path transform="translate(1.70,1.70)" d="M13.5,0 A13.5,13.5 0 1 1 13.5,27 A13.5,13.5 0 1 1 13.5,0 Z"/><path transform="translate(1.70,1.70)" d="M-0.8,27.8 L27.8,-0.8"/><path transform="translate(45.65,1.70)" d="M0,9.2 V7.9 A7.9,7.9 0 1 1 13.8,13.2 L2.3,27 H17.5"/><path transform="translate(75.10,1.70)" d="M14.8,28.5 V0.2 L1.0,21.6 H20.2"/></g>
<line x1="149.60" y1="1702.00" x2="149.60" y2="1722.00" stroke="#231f20" stroke-width="2.1" stroke-linecap="butt"/>
<polygon points="149.60,1747.30 133.60,1720.10 165.60,1720.10" fill="#231f20"/>
<line x1="125.20" y1="1747.30" x2="221.00" y2="1747.30" stroke="#231f20" stroke-width="2.1" stroke-linecap="butt"/>
<line x1="125.20" y1="1816.20" x2="221.00" y2="1816.20" stroke="#231f20" stroke-width="2.1" stroke-linecap="butt"/>
<polygon points="149.60,1816.20 133.60,1843.40 165.60,1843.40" fill="#231f20"/>
<line x1="149.60" y1="1842.00" x2="149.60" y2="1862.90" stroke="#231f20" stroke-width="2.1" stroke-linecap="butt"/>
<line x1="62.90" y1="1782.70" x2="218.10" y2="1782.70" stroke="#231f20" stroke-width="2.1" stroke-linecap="butt"/>
<polygon points="87.20,1782.90 71.20,1810.10 103.20,1810.10" fill="#231f20"/>
<line x1="87.20" y1="1808.00" x2="87.20" y2="1850.20" stroke="#231f20" stroke-width="2.1" stroke-linecap="butt"/>
<g transform="translate(72.20,1909.80) rotate(-90) scale(1.0)" fill="none" stroke="#231f20" stroke-width="3.4" stroke-linejoin="miter" stroke-linecap="butt"><path transform="translate(1.70,1.70)" d="M-1.5,0 H17.4 L1.5,28.0"/><path transform="translate(25.40,1.70)" d="M14.8,28.5 V0.2 L1.0,21.6 H20.2"/></g>
<line x1="87.20" y1="1924.70" x2="87.20" y2="1975.00" stroke="#231f20" stroke-width="2.1" stroke-linecap="butt"/>
<polygon points="87.20,2000.10 71.20,1972.90 103.20,1972.90" fill="#231f20"/>
<line x1="62.90" y1="2000.30" x2="130.30" y2="2000.30" stroke="#231f20" stroke-width="2.1" stroke-linecap="butt"/>
<line x1="172.20" y1="2000.30" x2="221.00" y2="2000.30" stroke="#231f20" stroke-width="2.1" stroke-linecap="butt"/>
<line x1="149.60" y1="1889.00" x2="149.60" y2="1910.00" stroke="#231f20" stroke-width="2.1" stroke-linecap="butt"/>
<polygon points="149.60,1935.70 133.60,1908.50 165.60,1908.50" fill="#231f20"/>
<line x1="125.20" y1="1935.90" x2="221.00" y2="1935.90" stroke="#231f20" stroke-width="2.1" stroke-linecap="butt"/>
<g transform="translate(134.50,2047.50) rotate(-90) scale(1.0)" fill="none" stroke="#231f20" stroke-width="3.4" stroke-linejoin="miter" stroke-linecap="butt"><path transform="translate(1.70,1.70)" d="M13.5,0 A13.5,13.5 0 1 1 13.5,27 A13.5,13.5 0 1 1 13.5,0 Z"/><path transform="translate(1.70,1.70)" d="M-0.8,27.8 L27.8,-0.8"/><path transform="translate(41.80,1.70)" d="M14.8,28.5 V0.2 L1.0,21.6 H20.2"/><path transform="translate(77.10,1.70)" d="M1.0,6.6 A6.1,6.1 0 1 1 7.1,12.3 A7.6,7.45 0 1 1 0.3,21.9"/></g>
<line x1="125.20" y1="2063.70" x2="220.50" y2="2063.70" stroke="#231f20" stroke-width="2.1" stroke-linecap="butt"/>
<polygon points="149.60,2063.70 133.60,2090.90 165.60,2090.90" fill="#231f20"/>
<line x1="149.60" y1="2089.00" x2="149.60" y2="2111.00" stroke="#231f20" stroke-width="2.1" stroke-linecap="butt"/>
<path d="M224.6,1679.5 Q224.6,1678.3 226,1678.4 L250,1679.4 Q256,1680 257.3,1686 Q263,1760 267,1830 Q270,1900 268.8,1950 Q266,2040 260.8,2110 Q260,2119.5 251,2120.5 L226,2122.6 Q224.6,2122.7 224.6,2121.4 Z" fill="none" stroke="#231f20" stroke-width="5.4" stroke-linejoin="round" stroke-linecap="round" />
<line x1="224.60" y1="2126.60" x2="224.60" y2="2354.60" stroke="#231f20" stroke-width="2.1" stroke-linecap="butt"/>
<path d="M266,1745.5 H279 Q285,1746 287.5,1751 Q291,1762 297.5,1767.5 V1795.5 Q291,1801 287.5,1812 Q285,1817.8 279,1818.5 H268" fill="none" stroke="#231f20" stroke-width="3.2" stroke-linejoin="round" stroke-linecap="round" />
<line x1="282.50" y1="1747.00" x2="282.50" y2="1817.00" stroke="#231f20" stroke-width="1.5" stroke-linecap="butt"/>
<path d="M304,1751 H329 Q331,1745.4 336,1745.4 H379 Q383.8,1745.4 383.8,1750 V1814 Q383.8,1818.8 379,1818.8 H336 Q331,1818.8 329,1813.3 H304 Q300.8,1813.3 300.8,1810 V1754 Q300.8,1751 304,1751 Z" fill="none" stroke="#231f20" stroke-width="6.0" stroke-linejoin="round" stroke-linecap="round" />
<line x1="327.00" y1="1752.00" x2="327.00" y2="1812.00" stroke="#231f20" stroke-width="1.4" stroke-linecap="butt"/>
<line x1="331.50" y1="1748.00" x2="331.50" y2="1817.00" stroke="#231f20" stroke-width="3.0" stroke-linecap="butt"/>
<path d="M270.3,1935.4 Q295,1936.5 315.5,1945.5" fill="none" stroke="#231f20" stroke-width="3.6" stroke-linejoin="round" stroke-linecap="round" />
<path d="M266.5,2065.7 Q285,2065 303,2060.7" fill="none" stroke="#231f20" stroke-width="3.6" stroke-linejoin="round" stroke-linecap="round" />
<path d="M316,1946.5 L315.5,1940.5 L325.3,1936 L400.4,1938.1" fill="none" stroke="#231f20" stroke-width="6.0" stroke-linejoin="round" stroke-linecap="round" />
<path d="M322,1938 L304.2,2000 V2066 H352 Q396,2066.5 413,2098 Q421,2113 425,2130 L447,2208 Q452,2228 466,2232.5 Q472,2234 474,2231.5" fill="none" stroke="#231f20" stroke-width="6.0" stroke-linejoin="round" stroke-linecap="round" />
<path d="M400.4,1938.1 L474.5,2233" fill="none" stroke="#231f20" stroke-width="6.0" stroke-linejoin="round" stroke-linecap="round" />
<path d="M322.5,1934 L387.6,1914 L563.3,2160.4" fill="none" stroke="#231f20" stroke-width="6.0" stroke-linejoin="round" stroke-linecap="butt" stroke-dasharray="13.5 6.5" />
<path d="M430.5,2043 Q452,2044 468,2062 L531,2146" fill="none" stroke="#231f20" stroke-width="6.0" stroke-linejoin="round" stroke-linecap="butt" stroke-dasharray="13.5 6.5" />
<path d="M529,2143 Q543,2166 557,2166.5 Q564,2166.5 565.5,2162.5" fill="none" stroke="#231f20" stroke-width="4.6" stroke-linejoin="round" stroke-linecap="round" />
<line x1="420.80" y1="2000.40" x2="706.90" y2="2000.40" stroke="#231f20" stroke-width="2.1" stroke-linecap="butt"/>
<line x1="476.90" y1="2233.20" x2="706.90" y2="2233.20" stroke="#231f20" stroke-width="2.1" stroke-linecap="butt"/>
<polygon points="682.20,2000.60 666.20,2027.80 698.20,2027.80" fill="#231f20"/>
<line x1="682.20" y1="2026.00" x2="682.20" y2="2076.90" stroke="#231f20" stroke-width="2.1" stroke-linecap="butt"/>
<g transform="translate(667.50,2140.80) rotate(-90) scale(1.0)" fill="none" stroke="#231f20" stroke-width="3.4" stroke-linejoin="miter" stroke-linecap="butt"><path transform="translate(1.70,1.70)" d="M-1.5,0 H17.4 L1.5,28.0"/><path transform="translate(30.10,1.70)" d="M9.1,0 A9.1,9.1 0 1 1 9.1,18.2 A9.1,9.1 0 1 1 9.1,0 Z"/><path transform="translate(30.10,1.70)" d="M16.6,14.2 L5.4,27.9"/></g>
<line x1="682.20" y1="2153.30" x2="682.20" y2="2208.00" stroke="#231f20" stroke-width="2.1" stroke-linecap="butt"/>
<polygon points="682.20,2233.00 666.20,2205.80 698.20,2205.80" fill="#231f20"/>
<polygon points="224.60,2266.40 251.80,2250.40 251.80,2282.40" fill="#231f20"/>
<g transform="translate(274.80,2252.00) rotate(0) scale(1.0)" fill="none" stroke="#231f20" stroke-width="3.4" stroke-linejoin="miter" stroke-linecap="butt"><path transform="translate(1.70,1.70)" d="M7.4,0 A5.9,5.9 0 1 1 7.4,11.8 A5.9,5.9 0 1 1 7.4,0 Z"/><path transform="translate(1.70,1.70)" d="M7.4,12.2 A7.4,7.4 0 1 1 7.4,27 A7.4,7.4 0 1 1 7.4,12.2 Z"/><path transform="translate(31.52,1.70)" d="M9.1,0 A9.1,13.5 0 1 1 9.1,27 A9.1,13.5 0 1 1 9.1,0 Z"/><path transform="translate(61.24,1.70)" d="M-1.5,18.2 H6.5"/><path transform="translate(81.76,1.70)" d="M-0.8,1.75 L5.0,0.35 V28.7"/><path transform="translate(103.28,1.70)" d="M9.1,0 A9.1,13.5 0 1 1 9.1,27 A9.1,13.5 0 1 1 9.1,0 Z"/><path transform="translate(136.50,1.70)" d="M7.4,0 A5.9,5.9 0 1 1 7.4,11.8 A5.9,5.9 0 1 1 7.4,0 Z"/><path transform="translate(136.50,1.70)" d="M7.4,12.2 A7.4,7.4 0 1 1 7.4,27 A7.4,7.4 0 1 1 7.4,12.2 Z"/></g>
<polygon points="471.80,2266.40 444.60,2250.40 444.60,2282.40" fill="#231f20"/>
<line x1="471.80" y1="2235.50" x2="471.80" y2="2290.10" stroke="#231f20" stroke-width="2.1" stroke-linecap="butt"/>
<polygon points="224.60,2329.80 251.80,2313.80 251.80,2345.80" fill="#231f20"/>
<line x1="251.00" y1="2329.80" x2="283.30" y2="2329.80" stroke="#231f20" stroke-width="2.1" stroke-linecap="butt"/>
<g transform="translate(302.80,2315.40) rotate(0) scale(1.0)" fill="none" stroke="#231f20" stroke-width="3.4" stroke-linejoin="miter" stroke-linecap="butt"><path transform="translate(1.70,1.70)" d="M-0.8,1.75 L5.0,0.35 V28.7"/><path transform="translate(23.88,1.70)" d="M9.1,0 A9.1,13.5 0 1 1 9.1,27 A9.1,13.5 0 1 1 9.1,0 Z"/><path transform="translate(57.77,1.70)" d="M7.4,0 A5.9,5.9 0 1 1 7.4,11.8 A5.9,5.9 0 1 1 7.4,0 Z"/><path transform="translate(57.77,1.70)" d="M7.4,12.2 A7.4,7.4 0 1 1 7.4,27 A7.4,7.4 0 1 1 7.4,12.2 Z"/><path transform="translate(84.75,1.70)" d="M-1.5,18.2 H6.5"/><path transform="translate(105.93,1.70)" d="M-0.8,1.75 L5.0,0.35 V28.7"/><path transform="translate(128.12,1.70)" d="M1.0,6.6 A6.1,6.1 0 1 1 7.1,12.3 A7.6,7.45 0 1 1 0.3,21.9"/><path transform="translate(159.00,1.70)" d="M8.9,9.2 A8.9,8.9 0 1 1 8.9,27 A8.9,8.9 0 1 1 8.9,9.2 Z"/><path transform="translate(159.00,1.70)" d="M13.0,-0.9 L1.4,13.6"/></g>
<line x1="500.40" y1="2329.80" x2="540.00" y2="2329.80" stroke="#231f20" stroke-width="2.1" stroke-linecap="butt"/>
<polygon points="566.10,2329.80 538.90,2313.80 538.90,2345.80" fill="#231f20"/>
<line x1="566.60" y1="2163.30" x2="566.60" y2="2356.00" stroke="#231f20" stroke-width="2.1" stroke-linecap="butt"/>
<line x1="853.30" y1="1867.70" x2="926.20" y2="1867.70" stroke="#231f20" stroke-width="2.1" stroke-linecap="butt"/>
<line x1="853.30" y1="1929.30" x2="926.20" y2="1929.30" stroke="#231f20" stroke-width="2.1" stroke-linecap="butt"/>
<line x1="877.90" y1="1807.10" x2="877.90" y2="1841.00" stroke="#231f20" stroke-width="2.1" stroke-linecap="butt"/>
<polygon points="877.90,1867.70 861.90,1840.50 893.90,1840.50" fill="#231f20"/>
<polygon points="877.90,1929.30 861.90,1956.50 893.90,1956.50" fill="#231f20"/>
<line x1="877.90" y1="1955.00" x2="877.90" y2="1986.30" stroke="#231f20" stroke-width="2.1" stroke-linecap="butt"/>
<g transform="translate(863.00,2134.20) rotate(-90) scale(1.0)" fill="none" stroke="#231f20" stroke-width="3.4" stroke-linejoin="miter" stroke-linecap="butt"><path transform="translate(1.70,1.70)" d="M23.6,4.6 A13.5,13.5 0 1 0 27,14.2 H14.2"/><path transform="translate(64.25,1.70)" d="M-0.8,1.75 L5.0,0.35 V28.7"/><path transform="translate(87.02,1.70)" d="M-0.6,33.2 L17.2,-3.6"/><path transform="translate(114.80,1.70)" d="M0,9.2 V7.9 A7.9,7.9 0 1 1 13.8,13.2 L2.3,27 H17.5"/></g>
<path d="M980,1866.5 H934.5 L927.5,1873 V1924.5 L934.5,1931 H980" fill="none" stroke="#231f20" stroke-width="6.0" stroke-linejoin="round" stroke-linecap="round" />
<line x1="937.00" y1="1868.00" x2="937.00" y2="1929.00" stroke="#231f20" stroke-width="1.6" stroke-linecap="butt"/>
<line x1="944.70" y1="1868.00" x2="944.70" y2="1929.00" stroke="#231f20" stroke-width="1.6" stroke-linecap="butt"/>
<line x1="953.90" y1="1868.00" x2="953.90" y2="1929.00" stroke="#231f20" stroke-width="1.6" stroke-linecap="butt"/>
<line x1="969.30" y1="1868.00" x2="969.30" y2="1929.00" stroke="#231f20" stroke-width="1.6" stroke-linecap="butt"/>
<path d="M981.6,1986 V1809.2 H1052.5 Q1085,1850 1096,1903 Q1098.6,1915 1098.6,1930 V1984 Q1096,1987 1091,1986 Q1083,1977.5 1060,1977.5 H1035 Q1015,1978 999,1985 Q990,1987.5 981.6,1986 Z" fill="none" stroke="#231f20" stroke-width="6.0" stroke-linejoin="round" stroke-linecap="round" />
<path d="M1051.5,1811 V1905 Q1052.5,1950 1088,1985" fill="none" stroke="#231f20" stroke-width="3.0" stroke-linejoin="round" stroke-linecap="round" />
<path d="M1053,1838 Q1075,1855 1086,1880" fill="none" stroke="#231f20" stroke-width="1.4" stroke-linejoin="round" stroke-linecap="round" />
<path d="M1052,1898 Q1085,1898 1091,1925 Q1093,1932 1093.5,1986" fill="none" stroke="#231f20" stroke-width="1.8" stroke-linejoin="round" stroke-linecap="round" />
<path d="M1058,1815 Q1083,1850 1092,1890" fill="none" stroke="#231f20" stroke-width="1.2" stroke-linejoin="round" stroke-linecap="round" />
<path d="M1017.5,1988 V1997 Q1017.5,2000 1021,2000 H1079 Q1082.3,2000 1082.3,1997 V1988" fill="none" stroke="#231f20" stroke-width="3.4" stroke-linejoin="round" stroke-linecap="round" />
<line x1="1019.00" y1="1999.20" x2="1081.00" y2="1999.20" stroke="#231f20" stroke-width="6.2" stroke-linecap="butt"/>
<line x1="1021.00" y1="1990.50" x2="1079.00" y2="1990.50" stroke="#231f20" stroke-width="1.4" stroke-linecap="butt"/>
<line x1="1054.00" y1="1808.60" x2="1183.90" y2="1808.60" stroke="#231f20" stroke-width="2.1" stroke-linecap="butt"/>
<line x1="1098.60" y1="1986.30" x2="1183.90" y2="1986.30" stroke="#231f20" stroke-width="2.1" stroke-linecap="butt"/>
<polygon points="1159.30,1808.80 1143.30,1836.00 1175.30,1836.00" fill="#231f20"/>
<line x1="1159.30" y1="1835.00" x2="1159.30" y2="1858.50" stroke="#231f20" stroke-width="2.1" stroke-linecap="butt"/>
<g transform="translate(1144.00,1923.40) rotate(-90) scale(1.0)" fill="none" stroke="#231f20" stroke-width="3.4" stroke-linejoin="miter" stroke-linecap="butt"><path transform="translate(1.70,1.70)" d="M8.9,9.2 A8.9,8.9 0 1 1 8.9,27 A8.9,8.9 0 1 1 8.9,9.2 Z"/><path transform="translate(1.70,1.70)" d="M13.0,-0.9 L1.4,13.6"/><path transform="translate(32.60,1.70)" d="M9.1,0 A9.1,13.5 0 1 1 9.1,27 A9.1,13.5 0 1 1 9.1,0 Z"/></g>
<line x1="1159.30" y1="1934.00" x2="1159.30" y2="1961.00" stroke="#231f20" stroke-width="2.1" stroke-linecap="butt"/>
<polygon points="1159.30,1986.10 1143.30,1958.90 1175.30,1958.90" fill="#231f20"/>
<line x1="1018.00" y1="2001.70" x2="1018.00" y2="2058.60" stroke="#231f20" stroke-width="2.1" stroke-linecap="butt"/>
<line x1="1081.10" y1="2001.70" x2="1081.10" y2="2058.60" stroke="#231f20" stroke-width="2.1" stroke-linecap="butt"/>
<line x1="958.50" y1="2034.00" x2="992.00" y2="2034.00" stroke="#231f20" stroke-width="2.1" stroke-linecap="butt"/>
<polygon points="1018.00,2034.00 990.80,2018.00 990.80,2050.00" fill="#231f20"/>
<polygon points="1081.10,2034.00 1108.30,2018.00 1108.30,2050.00" fill="#231f20"/>
<line x1="1106.00" y1="2034.00" x2="1135.60" y2="2034.00" stroke="#231f20" stroke-width="2.1" stroke-linecap="butt"/>
<g transform="translate(1154.40,2019.70) rotate(0) scale(1.0)" fill="none" stroke="#231f20" stroke-width="3.4" stroke-linejoin="miter" stroke-linecap="butt"><path transform="translate(1.70,1.70)" d="M23.6,4.6 A13.5,13.5 0 1 0 27,14.2 H14.2"/><path transform="translate(64.70,1.70)" d="M-0.8,1.75 L5.0,0.35 V28.7"/><path transform="translate(87.70,1.70)" d="M-0.6,33.2 L17.2,-3.6"/><path transform="translate(115.70,1.70)" d="M0,9.2 V7.9 A7.9,7.9 0 1 1 13.8,13.2 L2.3,27 H17.5"/></g>
<line x1="982.30" y1="1992.40" x2="982.30" y2="2115.60" stroke="#231f20" stroke-width="2.1" stroke-linecap="butt"/>
<line x1="1097.10" y1="1989.40" x2="1097.10" y2="2115.60" stroke="#231f20" stroke-width="2.1" stroke-linecap="butt"/>
<polygon points="982.30,2091.00 1009.50,2075.00 1009.50,2107.00" fill="#231f20"/>
<g transform="translate(1012.60,2076.80) rotate(0) scale(1.0)" fill="none" stroke="#231f20" stroke-width="3.4" stroke-linejoin="miter" stroke-linecap="butt"><path transform="translate(1.70,1.70)" d="M14.8,28.5 V0.2 L1.0,21.6 H20.2"/><path transform="translate(33.60,1.70)" d="M9.1,0 A9.1,13.5 0 1 1 9.1,27 A9.1,13.5 0 1 1 9.1,0 Z"/></g>
<polygon points="1097.10,2091.00 1069.90,2075.00 1069.90,2107.00" fill="#231f20"/>
</svg>
</body></html>
